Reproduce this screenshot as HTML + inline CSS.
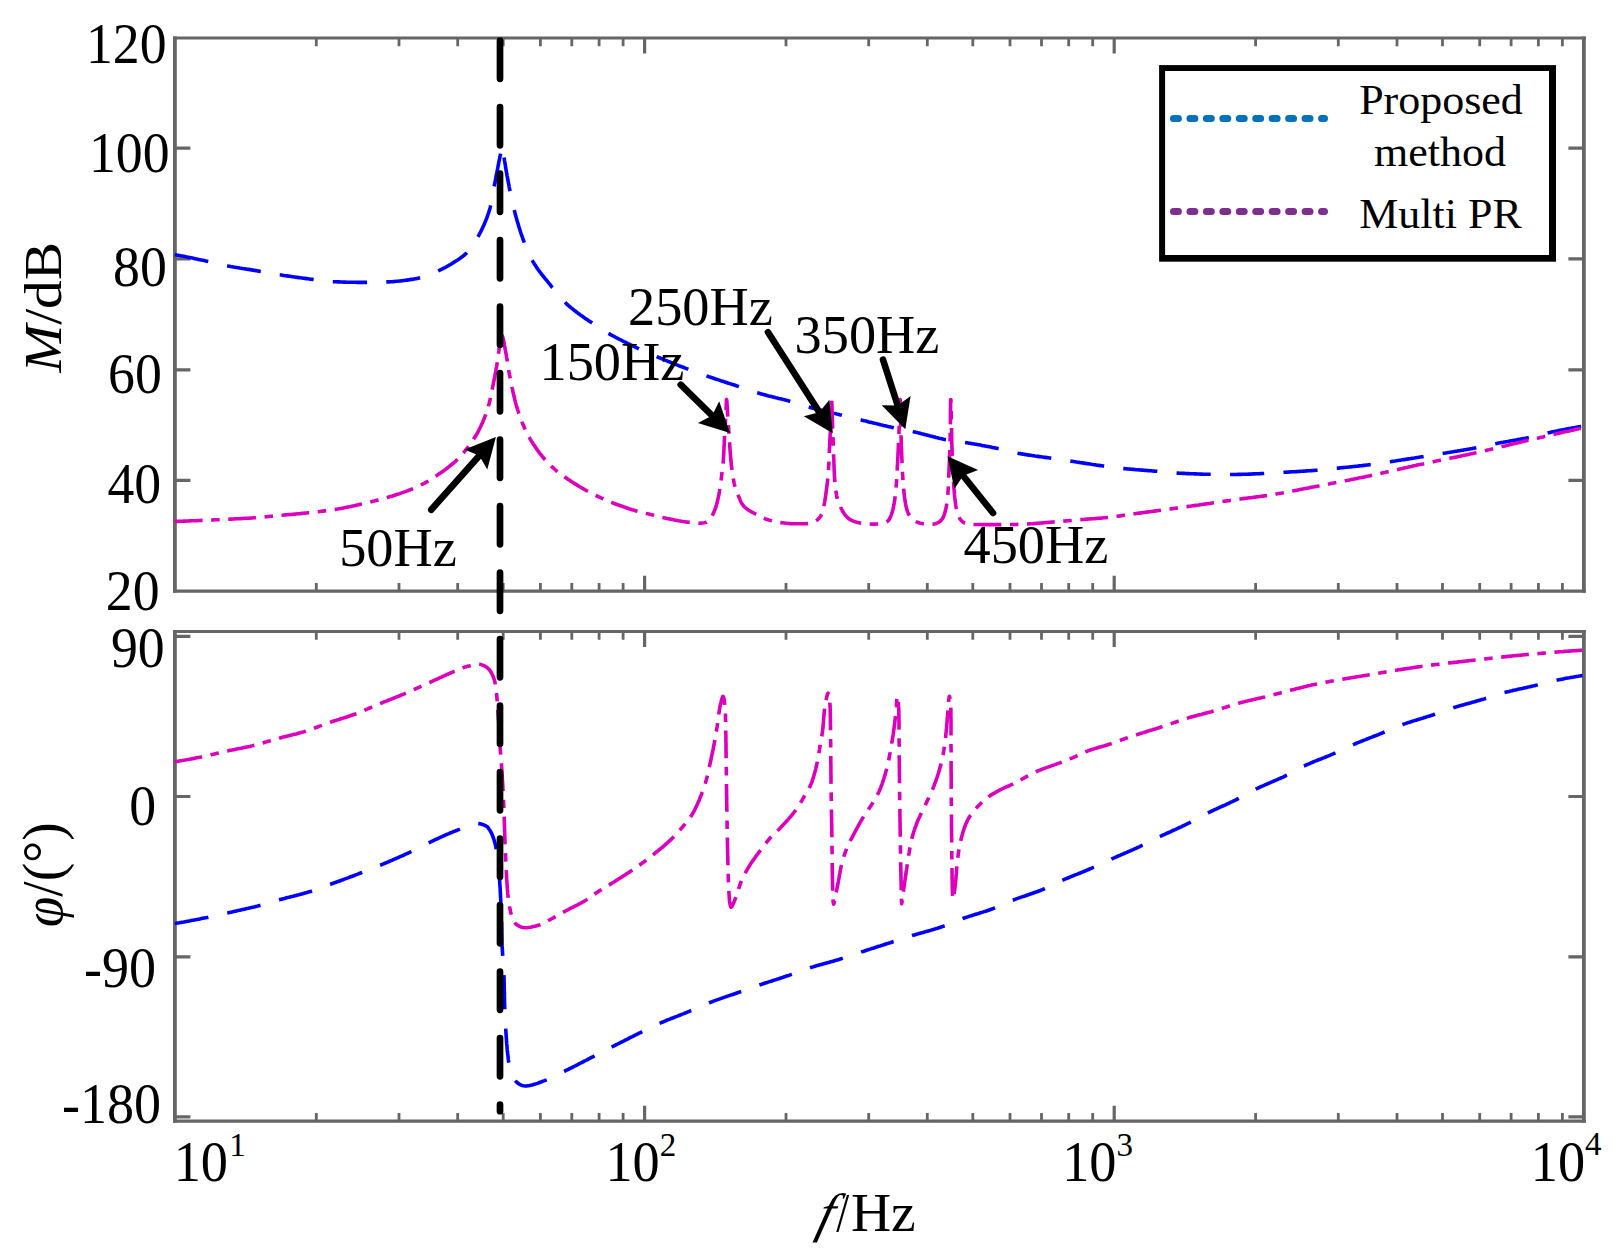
<!DOCTYPE html>
<html lang="en"><head><meta charset="utf-8"><title>Bode plot</title>
<style>html,body{margin:0;padding:0;background:#fff}body{width:1620px;height:1258px;position:relative;overflow:hidden}</style></head>
<body>
<svg width="1620" height="1258" viewBox="0 0 1620 1258" style="position:absolute;left:0;top:0">
<rect width="1620" height="1258" fill="#fff"/>
<g stroke="#666" fill="none">
<path d="M173.0 38.0H1585.8000000000002M173.0 591.2H1585.8000000000002" stroke-width="3.2"/>
<path d="M174.9 36.4V592.8000000000001M1583.9 36.4V592.8000000000001" stroke-width="3.8"/>
<path d="M173.0 631.5H1585.8000000000002M173.0 1121.2H1585.8000000000002" stroke-width="3.2"/>
<path d="M174.9 629.9V1122.8M1583.9 629.9V1122.8" stroke-width="3.8"/>
<path d="M316.3 38.0v8.2M316.3 591.2v-8.2" stroke-width="2.8"/>
<path d="M399.0 38.0v8.2M399.0 591.2v-8.2" stroke-width="2.8"/>
<path d="M457.7 38.0v8.2M457.7 591.2v-8.2" stroke-width="2.8"/>
<path d="M503.2 38.0v8.2M503.2 591.2v-8.2" stroke-width="2.8"/>
<path d="M540.4 38.0v8.2M540.4 591.2v-8.2" stroke-width="2.8"/>
<path d="M571.8 38.0v8.2M571.8 591.2v-8.2" stroke-width="2.8"/>
<path d="M599.1 38.0v8.2M599.1 591.2v-8.2" stroke-width="2.8"/>
<path d="M623.1 38.0v8.2M623.1 591.2v-8.2" stroke-width="2.8"/>
<path d="M644.6 38.0v15.5M644.6 591.2v-15.5" stroke-width="3.2"/>
<path d="M786.0 38.0v8.2M786.0 591.2v-8.2" stroke-width="2.8"/>
<path d="M868.7 38.0v8.2M868.7 591.2v-8.2" stroke-width="2.8"/>
<path d="M927.3 38.0v8.2M927.3 591.2v-8.2" stroke-width="2.8"/>
<path d="M972.8 38.0v8.2M972.8 591.2v-8.2" stroke-width="2.8"/>
<path d="M1010.0 38.0v8.2M1010.0 591.2v-8.2" stroke-width="2.8"/>
<path d="M1041.5 38.0v8.2M1041.5 591.2v-8.2" stroke-width="2.8"/>
<path d="M1068.7 38.0v8.2M1068.7 591.2v-8.2" stroke-width="2.8"/>
<path d="M1092.7 38.0v8.2M1092.7 591.2v-8.2" stroke-width="2.8"/>
<path d="M1114.2 38.0v15.5M1114.2 591.2v-15.5" stroke-width="3.2"/>
<path d="M1255.6 38.0v8.2M1255.6 591.2v-8.2" stroke-width="2.8"/>
<path d="M1338.3 38.0v8.2M1338.3 591.2v-8.2" stroke-width="2.8"/>
<path d="M1397.0 38.0v8.2M1397.0 591.2v-8.2" stroke-width="2.8"/>
<path d="M1442.5 38.0v8.2M1442.5 591.2v-8.2" stroke-width="2.8"/>
<path d="M1479.7 38.0v8.2M1479.7 591.2v-8.2" stroke-width="2.8"/>
<path d="M1511.1 38.0v8.2M1511.1 591.2v-8.2" stroke-width="2.8"/>
<path d="M1538.4 38.0v8.2M1538.4 591.2v-8.2" stroke-width="2.8"/>
<path d="M1562.4 38.0v8.2M1562.4 591.2v-8.2" stroke-width="2.8"/>
<path d="M174.9 148.2h15.5M1583.9 148.2h-15.5" stroke-width="3.2"/>
<path d="M174.9 258.8h15.5M1583.9 258.8h-15.5" stroke-width="3.2"/>
<path d="M174.9 369.8h15.5M1583.9 369.8h-15.5" stroke-width="3.2"/>
<path d="M174.9 480.4h15.5M1583.9 480.4h-15.5" stroke-width="3.2"/>
<path d="M316.3 631.5v8.2M316.3 1121.2v-8.2" stroke-width="2.8"/>
<path d="M399.0 631.5v8.2M399.0 1121.2v-8.2" stroke-width="2.8"/>
<path d="M457.7 631.5v8.2M457.7 1121.2v-8.2" stroke-width="2.8"/>
<path d="M503.2 631.5v8.2M503.2 1121.2v-8.2" stroke-width="2.8"/>
<path d="M540.4 631.5v8.2M540.4 1121.2v-8.2" stroke-width="2.8"/>
<path d="M571.8 631.5v8.2M571.8 1121.2v-8.2" stroke-width="2.8"/>
<path d="M599.1 631.5v8.2M599.1 1121.2v-8.2" stroke-width="2.8"/>
<path d="M623.1 631.5v8.2M623.1 1121.2v-8.2" stroke-width="2.8"/>
<path d="M644.6 631.5v15.5M644.6 1121.2v-15.5" stroke-width="3.2"/>
<path d="M786.0 631.5v8.2M786.0 1121.2v-8.2" stroke-width="2.8"/>
<path d="M868.7 631.5v8.2M868.7 1121.2v-8.2" stroke-width="2.8"/>
<path d="M927.3 631.5v8.2M927.3 1121.2v-8.2" stroke-width="2.8"/>
<path d="M972.8 631.5v8.2M972.8 1121.2v-8.2" stroke-width="2.8"/>
<path d="M1010.0 631.5v8.2M1010.0 1121.2v-8.2" stroke-width="2.8"/>
<path d="M1041.5 631.5v8.2M1041.5 1121.2v-8.2" stroke-width="2.8"/>
<path d="M1068.7 631.5v8.2M1068.7 1121.2v-8.2" stroke-width="2.8"/>
<path d="M1092.7 631.5v8.2M1092.7 1121.2v-8.2" stroke-width="2.8"/>
<path d="M1114.2 631.5v15.5M1114.2 1121.2v-15.5" stroke-width="3.2"/>
<path d="M1255.6 631.5v8.2M1255.6 1121.2v-8.2" stroke-width="2.8"/>
<path d="M1338.3 631.5v8.2M1338.3 1121.2v-8.2" stroke-width="2.8"/>
<path d="M1397.0 631.5v8.2M1397.0 1121.2v-8.2" stroke-width="2.8"/>
<path d="M1442.5 631.5v8.2M1442.5 1121.2v-8.2" stroke-width="2.8"/>
<path d="M1479.7 631.5v8.2M1479.7 1121.2v-8.2" stroke-width="2.8"/>
<path d="M1511.1 631.5v8.2M1511.1 1121.2v-8.2" stroke-width="2.8"/>
<path d="M1538.4 631.5v8.2M1538.4 1121.2v-8.2" stroke-width="2.8"/>
<path d="M1562.4 631.5v8.2M1562.4 1121.2v-8.2" stroke-width="2.8"/>
<path d="M174.9 636.3h15.5M1583.9 636.3h-15.5" stroke-width="3.2"/>
<path d="M174.9 796.5h15.5M1583.9 796.5h-15.5" stroke-width="3.2"/>
<path d="M174.9 956.8h15.5M1583.9 956.8h-15.5" stroke-width="3.2"/>
<path d="M174.9 1116.9h15.5M1583.9 1116.9h-15.5" stroke-width="3.2"/>
</g>
<g fill="none" stroke-linejoin="round">
<path d="M174.8 254.6L176.3 254.9L177.8 255.2L179.2 255.5L180.7 255.8L182.2 256.0L183.7 256.3L185.1 256.6L186.6 256.9L188.1 257.2L189.5 257.5L191.0 257.8L192.5 258.1L194.0 258.4L195.4 258.8L196.9 259.1L198.4 259.4L199.8 259.7L201.3 260.0L202.8 260.3L204.3 260.6L205.7 260.9L206.9 261.2L207.2 261.3L208.7 261.6L210.1 261.9L211.6 262.3L213.1 262.6L214.5 263.0L216.0 263.3L217.4 263.7L218.9 264.0L220.4 264.3L221.8 264.7L223.3 265.0L224.8 265.3L226.2 265.6L226.7 265.7L227.7 265.9L229.2 266.2L230.7 266.5L232.2 266.7L233.6 267.0L235.1 267.2L236.6 267.5L238.1 267.7L239.6 268.0L241.0 268.2L242.5 268.5L244.0 268.7L245.5 268.9L247.0 269.2L248.5 269.4L250.0 269.6L251.4 269.9L252.9 270.1L254.4 270.4L255.9 270.6L257.4 270.9L258.8 271.1L258.9 271.1L260.3 271.4L261.8 271.6L263.3 271.9L264.8 272.2L266.3 272.4L267.7 272.7L269.2 273.0L270.7 273.2L272.2 273.5L273.7 273.8L275.1 274.0L276.6 274.3L278.1 274.5L279.6 274.8L279.8 274.8L281.1 275.0L282.6 275.2L284.0 275.5L285.5 275.7L287.0 275.9L288.5 276.1L290.0 276.3L291.5 276.6L293.0 276.8L294.5 277.0L295.9 277.2L297.4 277.4L298.9 277.6L300.4 277.8L301.9 278.0L303.4 278.2L304.9 278.4L306.4 278.6L307.9 278.8L309.4 279.0L310.8 279.2L311.9 279.3L312.3 279.4L313.8 279.6L315.3 279.8L316.8 280.0L318.3 280.2L319.8 280.4L321.3 280.6L322.8 280.8L324.3 281.0L325.8 281.1L327.3 281.3L328.8 281.4L330.3 281.6L331.8 281.7L332.8 281.7L333.2 281.7L334.7 281.8L336.2 281.8L337.7 281.9L339.2 281.9L340.8 282.0L342.3 282.0L343.8 282.1L345.3 282.1L346.8 282.2L348.3 282.2L349.8 282.2L351.3 282.3L352.8 282.3L354.3 282.3L355.8 282.3L357.3 282.4L358.8 282.4L360.3 282.4L361.8 282.4L363.3 282.4L364.8 282.4L364.9 282.4L366.3 282.4L367.8 282.4L369.3 282.4L370.8 282.4L372.3 282.3L373.8 282.3L375.3 282.3L376.8 282.3L378.4 282.2L379.9 282.2L381.4 282.1L382.9 282.1L384.4 282.0L385.9 282.0L385.9 282.0L387.4 281.9L388.9 281.9L390.4 281.8L391.9 281.7L393.4 281.6L394.9 281.5L396.4 281.3L397.9 281.2L399.4 281.0L400.9 280.9L402.4 280.7L403.9 280.5L405.4 280.3L406.9 280.1L408.4 279.9L409.9 279.6L411.4 279.4L412.9 279.2L414.3 278.9L415.8 278.7L417.3 278.4L418.7 278.1L419.3 278.0L420.2 277.8L421.6 277.5L423.0 277.1L424.5 276.6L425.9 276.2L427.3 275.6L428.7 275.1L430.1 274.5L431.5 273.9L432.9 273.3L434.3 272.7L435.7 272.0L437.1 271.4L437.8 271.1L438.4 270.8L439.8 270.2L441.1 269.5L442.5 268.9L443.8 268.2L445.2 267.5L446.5 266.7L447.8 266.0L449.1 265.2L450.4 264.5L451.7 263.7L452.0 263.5L453.0 262.9L454.2 262.1L455.5 261.3L456.8 260.5L458.1 259.7L459.4 258.8L460.6 257.9L461.8 257.0L463.0 256.1L464.2 255.2L465.3 254.2L466.2 253.3L466.3 253.2L467.3 252.1L468.3 251.0L469.3 249.9L470.3 248.7L471.2 247.5L472.1 246.3L473.0 245.1L473.9 243.8L474.7 242.5L475.5 241.2L476.3 239.9L477.0 238.6L477.6 237.6L477.7 237.3L478.5 236.0L479.1 234.7L479.8 233.4L480.5 232.1L481.2 230.7L481.9 229.4L482.5 228.0L483.1 226.6L483.8 225.2L484.4 223.8L485.0 222.4L485.6 221.0L486.1 219.6L486.7 218.2L487.2 216.8L487.7 215.3L488.2 213.9L488.7 212.5L489.1 211.0L489.6 209.6L490.0 208.2L490.3 206.7L490.4 206.5L490.7 205.3L491.0 203.8L491.3 202.4L491.6 200.9L491.9 199.4L492.2 197.9L492.4 196.5L492.7 195.0L492.9 193.5L493.2 192.0L493.4 190.5L493.7 189.0L494.0 187.5L494.0 187.3L494.2 186.1L494.5 184.6L494.8 183.1L495.1 181.6L495.4 180.2L495.7 178.7L495.9 177.2L496.2 175.7L496.5 174.2L496.8 172.8L497.1 171.3L497.4 169.8L497.7 168.3L498.0 166.9L498.3 165.4L498.5 163.9L498.8 162.4L499.1 161.0L499.4 159.5L499.7 158.0L500.0 156.5L500.3 155.1L500.6 153.6" stroke="#0000ff" stroke-width="3.6" stroke-dasharray="34.2 19.3"/>
<path d="M504.1 157.5L504.3 159.0L504.5 160.5L504.8 162.0L505.0 163.4L505.3 164.9L505.5 166.4L505.7 167.9L506.0 169.4L506.2 170.9L506.5 172.3L506.8 173.8L507.0 175.3L507.3 176.8L507.6 178.2L507.8 179.7L508.1 181.2L508.4 182.7L508.7 184.1L509.0 185.6L509.2 187.1L509.5 188.6L509.8 190.0L510.0 190.9L510.1 191.5L510.4 193.0L510.7 194.5L511.0 195.9L511.3 197.4L511.6 198.9L512.0 200.3L512.3 201.8L512.6 203.3L513.0 204.7L513.3 206.2L513.7 207.7L514.0 209.1L514.4 210.6L514.5 211.0L514.8 212.0L515.1 213.5L515.5 214.9L515.9 216.4L516.3 217.8L516.7 219.3L517.1 220.7L517.5 222.2L518.0 223.6L518.4 225.0L518.8 226.5L519.3 227.9L519.7 229.4L520.2 230.8L520.6 232.2L521.1 233.7L521.6 235.1L522.1 236.5L522.6 237.9L523.1 239.3L523.6 240.7L524.1 242.1L524.2 242.4L524.6 243.5L525.2 244.9L525.7 246.3L526.3 247.7L526.9 249.1L527.5 250.5L528.1 251.9L528.7 253.3L529.3 254.7L530.0 256.0L530.7 257.4L531.3 258.7L532.0 260.0L532.6 261.0L532.8 261.3L533.5 262.6L534.3 263.8L535.1 265.1L535.9 266.3L536.7 267.6L537.6 268.8L538.4 270.0L539.3 271.2L540.2 272.4L541.2 273.6L542.1 274.8L543.0 276.0L544.0 277.2L544.9 278.4L545.9 279.5L546.9 280.7L547.8 281.9L548.8 283.1L549.7 284.2L550.7 285.4L551.6 286.6L552.4 287.5L552.6 287.7L553.5 288.9L554.5 290.1L555.4 291.3L556.3 292.4L557.3 293.6L558.2 294.8L559.2 296.0L560.2 297.1L561.2 298.2L562.2 299.4L563.2 300.5L564.2 301.5L565.3 302.6L565.7 303.0L566.3 303.6L567.4 304.6L568.5 305.6L569.7 306.6L570.8 307.5L571.9 308.5L573.1 309.4L574.3 310.4L575.5 311.3L576.7 312.2L577.9 313.1L579.1 314.0L580.3 314.9L581.6 315.8L582.8 316.6L584.0 317.5L585.3 318.4L586.5 319.2L587.8 320.1L589.0 320.9L590.3 321.8L591.5 322.6L592.8 323.5L592.8 323.5L594.0 324.3L595.2 325.1L596.5 326.0L597.8 326.8L599.0 327.6L600.3 328.4L601.6 329.2L602.8 330.0L604.1 330.8L605.4 331.6L606.7 332.3L608.0 333.1L609.3 333.8L610.1 334.3L610.6 334.6L611.9 335.3L613.2 336.0L614.5 336.7L615.9 337.5L617.2 338.2L618.5 338.8L619.9 339.5L621.2 340.2L622.5 340.9L623.9 341.6L625.2 342.2L626.6 342.9L627.9 343.6L629.3 344.2L630.6 344.9L632.0 345.5L633.3 346.2L634.7 346.8L636.1 347.5L637.4 348.1L638.5 348.6L638.8 348.7L640.1 349.4L641.5 350.0L642.9 350.6L644.2 351.2L645.6 351.8L647.0 352.4L648.4 353.1L649.7 353.7L651.1 354.2L652.5 354.8L653.9 355.4L655.3 356.0L656.6 356.6L658.0 357.2L658.3 357.3L659.4 357.8L660.8 358.3L662.2 358.9L663.6 359.5L665.0 360.1L666.4 360.6L667.7 361.2L669.1 361.8L670.5 362.3L671.9 362.9L673.3 363.5L674.7 364.0L676.1 364.6L677.5 365.1L678.9 365.7L680.3 366.2L681.7 366.8L683.1 367.3L684.5 367.8L685.9 368.4L687.3 368.9L688.7 369.5L689.1 369.6L690.1 370.0L691.5 370.5L692.9 371.0L694.3 371.5L695.7 372.1L697.2 372.6L698.6 373.1L700.0 373.6L701.4 374.1L702.8 374.6L704.2 375.1L705.6 375.6L707.1 376.1L707.7 376.3L708.5 376.6L709.9 377.1L711.3 377.5L712.8 378.0L714.2 378.5L715.6 379.0L717.0 379.4L718.5 379.9L719.9 380.4L721.3 380.9L722.7 381.3L724.2 381.8L725.6 382.2L727.0 382.7L728.4 383.2L729.9 383.6L731.3 384.1L732.7 384.6L734.2 385.0L735.6 385.5L737.0 386.0L738.4 386.4L739.8 386.9L739.9 386.9L741.3 387.4L742.7 387.9L744.1 388.4L745.5 388.9L747.0 389.4L748.4 389.9L749.8 390.3L751.2 390.8L752.7 391.3L754.1 391.8L755.5 392.2L756.9 392.7L758.3 393.1L758.4 393.1L759.8 393.5L761.3 393.9L762.7 394.3L764.1 394.7L765.6 395.1L767.1 395.5L768.5 395.9L770.0 396.2L771.4 396.6L772.9 396.9L774.3 397.3L775.8 397.7L777.3 398.0L778.7 398.4L780.2 398.7L781.6 399.1L783.1 399.4L784.6 399.8L786.0 400.2L787.5 400.6L788.9 401.0L790.4 401.4L791.6 401.7L791.8 401.8L793.3 402.2L794.7 402.6L796.1 403.1L797.6 403.5L799.0 404.0L800.4 404.4L801.9 404.9L803.3 405.3L804.7 405.8L806.1 406.2L807.6 406.7L809.0 407.1L810.1 407.4L810.5 407.5L811.9 407.9L813.4 408.3L814.8 408.7L816.3 409.0L817.7 409.4L819.2 409.8L820.6 410.1L822.1 410.5L823.6 410.8L825.0 411.2L826.5 411.5L827.9 411.9L829.4 412.2L830.9 412.6L832.3 412.9L833.8 413.3L835.3 413.6L836.7 414.0L838.2 414.3L839.6 414.7L841.1 415.0L842.2 415.3L842.6 415.4L844.0 415.7L845.5 416.1L846.9 416.5L848.4 416.8L849.8 417.2L851.3 417.6L852.8 417.9L854.2 418.3L855.7 418.6L857.1 419.0L858.6 419.4L860.0 419.7L861.5 420.1L862.0 420.2L863.0 420.4L864.4 420.8L865.9 421.1L867.3 421.5L868.8 421.9L870.3 422.2L871.7 422.6L873.2 422.9L874.6 423.3L876.1 423.6L877.6 424.0L879.0 424.3L880.5 424.7L881.9 425.0L883.4 425.4L884.9 425.7L886.3 426.1L887.8 426.4L889.2 426.7L890.7 427.1L892.2 427.4L893.6 427.7L895.1 428.1L895.3 428.1L896.6 428.4L898.0 428.7L899.5 429.0L901.0 429.3L902.5 429.6L903.9 429.9L905.4 430.1L906.9 430.4L908.4 430.7L909.8 431.0L911.3 431.3L912.8 431.6L914.2 431.9L915.0 432.1L915.7 432.3L917.2 432.6L918.6 432.9L920.1 433.3L921.5 433.7L923.0 434.0L924.5 434.4L925.9 434.8L927.4 435.2L928.8 435.6L930.3 436.0L931.7 436.3L933.2 436.7L934.6 437.1L936.1 437.5L937.6 437.8L939.0 438.2L940.5 438.5L941.9 438.8L943.4 439.2L944.9 439.5L946.3 439.7L946.7 439.8L947.8 440.0L949.3 440.2L950.8 440.5L952.3 440.7L953.7 440.9L955.2 441.1L956.7 441.3L958.2 441.5L959.7 441.7L961.2 441.9L962.7 442.1L964.2 442.4L965.7 442.6L966.4 442.7L967.1 442.8L968.6 443.1L970.1 443.3L971.6 443.6L973.1 443.8L974.5 444.1L976.0 444.3L977.5 444.6L979.0 444.8L980.5 445.1L981.9 445.4L983.4 445.7L984.9 445.9L986.4 446.2L987.8 446.5L989.3 446.8L990.8 447.1L992.3 447.4L993.7 447.7L995.2 447.9L996.7 448.2L998.1 448.6L999.6 448.9L999.8 448.9L1001.1 449.2L1002.5 449.5L1004.0 449.9L1005.5 450.2L1006.9 450.6L1008.4 451.0L1009.8 451.4L1011.3 451.7L1012.8 452.1L1014.2 452.4L1015.7 452.8L1017.1 453.1L1018.3 453.3L1018.6 453.4L1020.1 453.6L1021.6 453.9L1023.0 454.1L1024.5 454.4L1026.0 454.6L1027.5 454.9L1029.0 455.1L1030.5 455.3L1031.9 455.5L1033.4 455.7L1034.9 456.0L1036.4 456.2L1037.9 456.4L1039.4 456.6L1040.9 456.8L1042.4 457.0L1043.8 457.2L1045.3 457.4L1046.8 457.6L1048.3 457.8L1049.8 458.0L1051.3 458.3L1051.6 458.3L1052.8 458.5L1054.3 458.7L1055.7 458.9L1057.2 459.1L1058.7 459.3L1060.2 459.6L1061.7 459.8L1063.2 460.0L1064.7 460.2L1066.1 460.4L1067.6 460.6L1069.1 460.9L1070.6 461.1L1071.4 461.2L1072.1 461.3L1073.6 461.5L1075.1 461.7L1076.5 462.0L1078.0 462.2L1079.5 462.4L1081.0 462.7L1082.5 462.9L1084.0 463.1L1085.4 463.4L1086.9 463.6L1088.4 463.8L1089.9 464.0L1091.4 464.3L1092.9 464.5L1094.4 464.7L1095.8 464.9L1097.3 465.2L1098.8 465.4L1100.3 465.6L1101.8 465.8L1103.3 466.0L1104.7 466.2L1104.8 466.2L1106.2 466.4L1107.7 466.6L1109.2 466.8L1110.7 467.0L1112.2 467.2L1113.7 467.4L1115.2 467.6L1116.7 467.7L1118.2 467.9L1119.7 468.1L1121.1 468.3L1122.6 468.4L1124.1 468.6L1124.4 468.6L1125.6 468.7L1127.1 468.9L1128.6 469.0L1130.1 469.1L1131.6 469.3L1133.1 469.4L1134.6 469.5L1136.1 469.7L1137.6 469.8L1139.1 469.9L1140.6 470.0L1142.1 470.1L1143.6 470.3L1145.1 470.4L1146.6 470.5L1148.1 470.6L1149.6 470.7L1151.1 470.8L1152.6 471.0L1154.1 471.1L1155.6 471.2L1157.1 471.3L1157.8 471.4L1158.6 471.5L1160.0 471.6L1161.5 471.7L1163.0 471.9L1164.5 472.0L1166.0 472.2L1167.5 472.3L1169.0 472.5L1170.5 472.6L1172.0 472.7L1173.5 472.8L1175.0 472.9L1176.5 473.0L1177.5 473.1L1178.0 473.1L1179.5 473.2L1181.0 473.3L1182.5 473.4L1184.0 473.4L1185.5 473.5L1187.0 473.6L1188.5 473.6L1190.0 473.7L1191.5 473.8L1193.0 473.8L1194.5 473.9L1196.0 473.9L1197.5 474.0L1199.0 474.0L1200.5 474.1L1202.0 474.1L1203.5 474.2L1205.0 474.2L1206.5 474.2L1208.0 474.3L1209.5 474.3L1210.9 474.3L1211.0 474.3L1212.5 474.3L1214.0 474.3L1215.5 474.4L1217.0 474.4L1218.5 474.4L1220.0 474.4L1221.5 474.4L1223.0 474.5L1224.5 474.5L1226.0 474.5L1227.5 474.5L1229.0 474.5L1230.5 474.5L1231.5 474.5L1232.0 474.5L1233.5 474.5L1235.0 474.5L1236.5 474.5L1238.0 474.4L1239.5 474.4L1241.0 474.4L1242.5 474.3L1244.1 474.3L1245.6 474.2L1247.1 474.2L1248.6 474.1L1250.1 474.1L1251.6 474.0L1253.1 473.9L1254.6 473.9L1256.1 473.8L1257.6 473.7L1259.1 473.7L1260.6 473.6L1262.1 473.5L1263.6 473.5L1264.8 473.4L1265.1 473.4L1266.6 473.3L1268.1 473.2L1269.6 473.2L1271.1 473.1L1272.6 473.0L1274.1 472.9L1275.6 472.8L1277.1 472.7L1278.6 472.6L1280.1 472.6L1281.6 472.5L1283.1 472.4L1284.2 472.3L1284.5 472.3L1286.0 472.2L1287.5 472.1L1289.0 472.0L1290.5 471.9L1292.0 471.8L1293.5 471.8L1295.0 471.7L1296.5 471.6L1298.0 471.5L1299.5 471.4L1301.0 471.3L1302.5 471.2L1304.0 471.1L1305.5 471.0L1307.0 470.9L1308.5 470.8L1310.0 470.7L1311.5 470.6L1313.0 470.5L1314.5 470.4L1316.0 470.3L1317.5 470.2L1318.8 470.1L1319.0 470.1L1320.5 470.0L1322.0 469.8L1323.5 469.7L1325.0 469.5L1326.5 469.4L1328.0 469.2L1329.5 469.1L1331.0 468.9L1332.5 468.8L1334.0 468.6L1335.5 468.4L1336.9 468.3L1338.4 468.1L1338.5 468.1L1339.9 467.9L1341.4 467.8L1342.9 467.6L1344.4 467.5L1345.9 467.3L1347.4 467.2L1348.9 467.0L1350.4 466.9L1351.9 466.7L1353.4 466.5L1354.9 466.4L1356.4 466.2L1357.9 466.1L1359.3 465.9L1360.8 465.7L1362.3 465.6L1363.8 465.4L1365.3 465.2L1366.8 465.0L1368.3 464.9L1369.8 464.7L1371.3 464.5L1371.9 464.4L1372.8 464.3L1374.3 464.1L1375.7 463.9L1377.2 463.7L1378.7 463.5L1380.2 463.2L1381.7 463.0L1383.2 462.8L1384.7 462.6L1386.1 462.3L1387.6 462.1L1389.1 461.9L1390.6 461.7L1391.6 461.5L1392.1 461.4L1393.6 461.2L1395.0 461.0L1396.5 460.7L1398.0 460.5L1399.5 460.3L1401.0 460.1L1402.5 459.8L1404.0 459.6L1405.4 459.4L1406.9 459.1L1408.4 458.9L1409.9 458.7L1411.4 458.4L1412.9 458.2L1414.3 458.0L1415.8 457.7L1417.3 457.5L1418.8 457.3L1420.3 457.0L1421.8 456.8L1423.2 456.6L1424.7 456.3L1424.9 456.3L1426.2 456.1L1427.7 455.9L1429.2 455.6L1430.6 455.4L1432.1 455.1L1433.6 454.9L1435.1 454.7L1436.6 454.4L1438.1 454.2L1439.5 453.9L1441.0 453.7L1442.5 453.5L1443.5 453.3L1444.0 453.2L1445.5 453.0L1447.0 452.7L1448.4 452.5L1449.9 452.3L1451.4 452.0L1452.9 451.8L1454.4 451.5L1455.9 451.3L1457.3 451.1L1458.8 450.8L1460.3 450.6L1461.8 450.3L1463.3 450.1L1464.7 449.8L1466.2 449.6L1467.7 449.3L1469.2 449.1L1470.7 448.8L1472.1 448.6L1473.6 448.3L1475.1 448.0L1476.6 447.7L1476.8 447.7L1478.0 447.5L1479.5 447.2L1481.0 446.9L1482.5 446.5L1483.9 446.2L1485.4 445.9L1486.9 445.6L1488.3 445.3L1489.8 444.9L1491.3 444.6L1492.7 444.3L1494.2 444.0L1495.7 443.7L1496.5 443.5L1497.1 443.4L1498.6 443.1L1500.1 442.8L1501.6 442.5L1503.0 442.3L1504.5 442.0L1506.0 441.7L1507.5 441.5L1509.0 441.2L1510.4 440.9L1511.9 440.7L1513.4 440.4L1514.9 440.2L1516.4 439.9L1517.8 439.6L1519.3 439.4L1520.8 439.1L1522.3 438.8L1523.7 438.5L1525.2 438.3L1526.7 438.0L1528.2 437.7L1529.6 437.4L1529.9 437.3L1531.1 437.0L1532.5 436.7L1534.0 436.4L1535.5 436.0L1536.9 435.6L1538.4 435.3L1539.8 434.9L1541.3 434.5L1542.7 434.1L1544.2 433.8L1545.7 433.4L1547.1 433.1L1548.4 432.8L1548.6 432.8L1550.1 432.4L1551.5 432.1L1553.0 431.8L1554.5 431.5L1555.9 431.2L1557.4 430.9L1558.9 430.6L1560.3 430.3L1561.8 430.0L1563.3 429.7L1564.8 429.4L1566.2 429.1L1567.7 428.8L1569.2 428.5L1570.7 428.3L1572.1 428.0L1573.6 427.7L1575.1 427.5L1576.6 427.2L1578.1 426.9L1579.5 426.7L1581.0 426.4L1582.5 426.2" stroke="#0000ff" stroke-width="3.6" stroke-dasharray="34.2 19.3"/>
<path d="M174.8 521.5L176.3 521.4L177.8 521.4L179.3 521.3L180.8 521.3L182.3 521.2L183.8 521.1L185.3 521.1L186.8 521.0L188.3 521.0L189.8 520.9L191.3 520.8L192.8 520.8L194.3 520.7L195.8 520.7L197.3 520.6L198.8 520.5L199.5 520.5L200.3 520.5L201.8 520.4L203.3 520.3L204.8 520.3L206.3 520.2L207.8 520.2L209.3 520.1L210.8 520.0L212.3 520.0L213.8 519.9L215.3 519.8L216.8 519.8L218.3 519.7L219.8 519.6L221.3 519.6L222.8 519.5L224.3 519.4L225.8 519.3L226.7 519.3L227.3 519.3L228.8 519.2L230.3 519.1L231.7 519.1L233.2 519.0L234.7 518.9L236.2 518.8L237.7 518.7L239.2 518.7L240.7 518.6L242.2 518.5L243.7 518.4L245.2 518.3L246.7 518.3L248.2 518.2L249.7 518.1L251.2 518.0L252.7 517.9L253.8 517.8L254.2 517.8L255.7 517.7L257.2 517.5L258.7 517.4L260.2 517.3L261.7 517.2L263.2 517.0L264.7 516.9L266.2 516.7L267.7 516.6L269.2 516.5L270.6 516.3L272.1 516.2L273.6 516.0L275.1 515.9L276.6 515.7L278.1 515.6L279.6 515.4L281.0 515.3L281.1 515.3L282.6 515.2L284.1 515.0L285.6 514.9L287.1 514.8L288.6 514.6L290.1 514.5L291.6 514.4L293.1 514.2L294.6 514.1L296.0 514.0L297.5 513.8L299.0 513.7L300.5 513.6L302.0 513.4L303.5 513.3L305.0 513.1L306.5 513.0L308.0 512.8L308.1 512.8L309.5 512.7L311.0 512.5L312.5 512.3L314.0 512.2L315.4 512.0L316.9 511.8L318.4 511.7L319.9 511.5L321.4 511.3L322.9 511.1L324.4 510.9L325.9 510.7L327.4 510.5L328.9 510.3L330.3 510.1L331.8 509.9L333.3 509.7L334.8 509.5L335.3 509.4L336.3 509.2L337.7 509.0L339.2 508.7L340.7 508.5L342.2 508.2L343.6 507.9L345.1 507.6L346.6 507.3L348.1 507.0L349.5 506.7L351.0 506.4L352.5 506.1L353.9 505.8L355.4 505.4L356.9 505.1L358.3 504.8L359.8 504.4L360.0 504.4L361.2 504.1L362.7 503.8L364.2 503.4L365.6 503.1L367.1 502.8L368.6 502.4L370.0 502.1L371.5 501.7L372.9 501.3L374.4 501.0L375.8 500.6L377.3 500.2L378.7 499.8L380.2 499.5L381.6 499.1L383.1 498.7L384.5 498.3L386.0 497.9L387.2 497.5L387.4 497.4L388.8 497.0L390.3 496.6L391.7 496.2L393.2 495.7L394.6 495.3L396.0 494.8L397.4 494.3L398.9 493.9L400.3 493.4L401.7 492.9L403.1 492.4L404.6 491.9L406.0 491.4L407.4 490.9L408.8 490.3L410.2 489.8L410.6 489.6L411.5 489.2L412.9 488.7L414.3 488.1L415.7 487.5L417.1 486.8L418.4 486.2L419.8 485.6L421.1 484.9L422.5 484.2L423.8 483.5L425.1 482.8L425.4 482.7L426.4 482.1L427.7 481.4L429.0 480.6L430.3 479.8L431.6 479.0L432.8 478.2L434.1 477.3L435.3 476.5L435.3 476.5L436.5 475.7L437.8 474.8L439.0 473.9L440.3 473.1L441.5 472.2L442.7 471.4L444.0 470.5L445.2 469.6L446.4 468.7L447.6 467.8L448.8 466.9L450.0 465.9L451.1 465.0L452.3 464.0L453.4 463.1L454.6 462.1L455.7 461.1L456.3 460.5L456.7 460.1L457.8 459.0L458.9 458.0L459.9 456.9L460.9 455.8L461.9 454.6L462.9 453.5L463.9 452.3L464.8 451.2L465.7 450.0L466.2 449.4L466.6 448.8L467.6 447.6L468.5 446.4L469.4 445.2L470.3 444.0L471.1 442.8L472.0 441.5L472.9 440.3L473.7 439.0L474.5 437.8L475.3 436.5L476.1 435.2L476.9 433.9L477.6 432.6L478.3 431.3L478.5 430.9L479.0 430.0L479.6 428.7L480.3 427.3L480.9 426.0L481.5 424.6L482.2 423.2L482.8 421.9L483.4 420.5L483.9 419.1L484.5 417.7L485.0 416.3L485.6 414.8L486.1 413.4L486.6 412.0L487.1 410.6L487.5 409.1L488.0 407.7L488.4 406.3L488.4 406.2L488.8 404.8L489.2 403.4L489.5 402.0L489.9 400.5L490.2 399.0L490.5 397.6L490.9 396.1L491.2 394.6L491.5 393.2L491.8 391.7L492.1 390.2L492.4 388.7L492.6 387.3L492.9 385.8L493.2 384.3L493.3 384.0L493.5 382.8L493.8 381.4L494.1 379.9L494.4 378.4L494.7 377.0L494.9 375.5L495.2 374.0L495.5 372.5L495.8 371.1L496.0 369.6L496.3 368.1L496.6 366.6L496.8 365.1L497.0 364.2L497.1 363.7L497.4 362.1L497.6 360.3L497.9 358.5L498.1 356.6L498.4 354.7L498.6 352.7L498.9 350.8L499.1 348.8L499.4 346.9L499.6 345.1L499.9 343.4L500.1 341.8L500.4 340.3L500.6 339.0L500.9 337.9L501.2 337.0L501.5 336.3L501.7 335.9L502.0 335.8L502.0 335.8L502.4 336.1L502.7 336.9L503.0 338.0L503.4 339.5L503.7 341.2L504.1 343.0L504.4 344.9L504.8 346.9L505.1 348.8L505.4 350.5L505.7 351.9L505.7 352.1L506.0 353.6L506.3 355.0L506.5 356.5L506.8 358.0L507.0 359.5L507.3 360.9L507.5 362.4L507.7 363.9L507.9 365.4L508.2 366.9L508.4 368.4L508.7 369.8L508.9 371.3L509.2 372.8L509.4 374.1L509.4 374.3L509.7 375.7L510.0 377.2L510.3 378.7L510.6 380.2L510.8 381.6L511.1 383.1L511.4 384.6L511.7 386.1L512.0 387.5L512.4 389.0L512.7 390.5L513.0 391.9L513.3 393.4L513.7 394.9L514.0 396.3L514.4 397.8L514.7 399.2L514.9 400.0L515.1 400.7L515.4 402.1L515.8 403.6L516.2 405.0L516.7 406.5L517.1 407.9L517.5 409.3L518.0 410.8L518.4 412.1L518.4 412.2L518.9 413.6L519.4 415.0L519.9 416.5L520.4 417.9L520.9 419.3L521.5 420.7L522.0 422.1L522.6 423.5L523.2 424.9L523.6 425.9L523.7 426.2L524.3 427.6L525.0 429.0L525.6 430.3L526.3 431.7L526.9 433.0L527.6 434.4L528.3 435.7L529.0 437.0L529.6 438.0L529.8 438.3L530.5 439.6L531.3 440.9L532.1 442.1L532.9 443.4L533.7 444.7L534.6 445.9L535.4 447.2L536.3 448.4L537.1 449.7L538.0 450.9L538.9 452.1L539.8 453.3L540.8 454.5L541.7 455.6L542.6 456.8L543.6 458.0L544.3 458.8L544.5 459.1L545.5 460.2L546.5 461.3L547.6 462.4L548.6 463.5L549.7 464.6L550.7 465.6L551.8 466.7L552.9 467.7L554.0 468.7L555.2 469.7L555.5 470.0L556.3 470.7L557.5 471.6L558.6 472.5L559.8 473.5L561.0 474.4L562.2 475.2L563.5 476.1L564.7 477.0L565.9 477.8L565.9 477.8L567.2 478.7L568.4 479.5L569.7 480.3L570.9 481.2L572.2 482.0L573.4 482.8L574.7 483.6L576.0 484.4L577.3 485.2L578.5 486.0L579.8 486.8L581.1 487.5L582.4 488.3L583.7 489.0L585.0 489.8L585.8 490.2L586.3 490.5L587.6 491.2L589.0 491.9L590.3 492.6L591.6 493.3L593.0 494.0L594.3 494.6L595.7 495.3L597.0 496.0L598.4 496.6L598.8 496.8L599.7 497.2L601.1 497.9L602.5 498.5L603.8 499.1L605.2 499.7L606.6 500.3L607.9 500.9L609.3 501.5L610.7 502.1L612.1 502.6L612.6 502.8L613.5 503.2L614.9 503.7L616.3 504.2L617.7 504.8L619.1 505.3L620.5 505.8L621.9 506.3L623.4 506.8L624.8 507.3L626.2 507.8L627.6 508.3L629.0 508.8L630.5 509.2L631.9 509.7L633.3 510.1L634.8 510.5L635.0 510.6L636.2 510.9L637.7 511.3L639.1 511.7L640.6 512.1L642.0 512.4L643.5 512.8L644.9 513.1L646.4 513.5L647.9 513.8L648.9 514.1L649.3 514.2L650.8 514.6L652.2 514.9L653.7 515.3L655.1 515.7L656.6 516.1L658.0 516.4L659.5 516.8L661.0 517.1L662.4 517.5L663.9 517.8L664.4 517.9L665.3 518.1L666.8 518.4L668.3 518.7L669.7 519.0L671.2 519.3L672.7 519.6L674.2 519.9L675.6 520.2L677.1 520.5L678.6 520.8L680.1 521.0L681.5 521.3L683.0 521.5L684.5 521.7L686.0 522.0L687.5 522.1L687.9 522.2L689.0 522.3L690.5 522.5L691.9 522.7L693.4 522.9L694.9 523.0L696.4 523.1L697.9 523.2L698.3 523.2L699.4 523.2L701.0 523.1L702.6 523.0L704.1 522.8L705.4 522.5L705.6 522.5L706.7 522.1L707.8 521.3L709.0 520.1L710.0 518.8L710.9 517.5L711.7 516.3L711.8 516.2L712.5 515.0L713.2 513.7L713.8 512.3L714.4 510.9L715.0 509.5L715.5 508.0L716.0 506.6L716.2 505.8L716.4 505.2L716.8 503.7L717.2 502.3L717.6 500.8L717.9 499.4L718.2 497.9L718.5 496.4L718.8 494.9L719.1 493.5L719.4 492.0L719.5 491.3L719.6 490.5L719.9 489.0L720.1 487.5L720.3 486.1L720.5 484.6L720.7 483.1L720.9 481.6L721.1 480.1L721.3 478.6L721.5 477.1L721.5 476.8L721.6 475.6L721.8 474.2L722.0 472.7L722.2 471.2L722.4 469.7L722.6 468.2L722.8 466.7L722.9 465.2L723.1 463.7L723.2 462.4L723.2 462.2L723.3 460.7L723.4 459.2L723.5 457.7L723.6 456.2L723.7 454.8L723.8 453.3L723.8 451.8L723.9 450.3L724.0 448.8L724.0 447.3L724.1 445.8L724.2 444.3L724.3 442.8L724.3 441.3L724.4 439.8L724.5 438.3L724.5 437.9L724.6 436.8L724.6 435.3L724.7 433.8L724.8 432.3L724.9 430.8L725.0 429.3L725.1 427.8L725.2 426.3L725.3 424.8L725.4 423.3L725.5 421.8L725.5 420.3L725.6 418.8L725.7 417.3L725.8 415.8L725.8 415.6L725.9 414.2L725.9 412.4L726.0 410.5L726.1 408.5L726.2 406.5L726.2 404.6L726.3 402.9L726.4 401.5L726.4 400.4L726.5 399.7L726.6 399.5L726.6 399.5L726.7 399.8L726.8 400.6L726.9 401.8L727.0 403.3L727.1 405.1L727.3 406.9L727.4 408.9L727.5 410.9L727.6 412.8L727.7 414.6L727.8 415.6L727.8 416.1L727.9 417.6L728.0 419.1L728.1 420.6L728.2 422.1L728.3 423.6L728.4 425.1L728.5 426.6L728.6 428.1L728.7 429.6L728.8 431.1L728.9 432.6L728.9 434.1L729.0 435.6L729.1 437.1L729.2 438.6L729.3 440.1L729.4 441.6L729.5 442.3L729.6 443.1L729.7 444.6L729.8 446.1L729.9 447.6L730.0 449.1L730.1 450.6L730.2 452.1L730.3 453.6L730.5 455.1L730.6 456.6L730.7 458.0L730.8 459.5L731.0 461.0L731.1 462.5L731.3 464.0L731.4 465.5L731.6 467.0L731.7 467.9L731.8 468.5L732.0 470.0L732.1 471.5L732.4 473.0L732.6 474.4L732.8 475.9L733.1 477.4L733.3 478.9L733.6 480.4L733.9 481.8L734.2 483.3L734.5 484.6L734.5 484.8L734.9 486.2L735.3 487.6L735.8 489.1L736.3 490.5L736.8 491.9L737.4 493.3L737.9 494.7L738.4 495.8L738.5 496.1L739.1 497.5L739.7 498.9L740.3 500.4L740.9 501.8L741.6 503.1L742.4 504.4L743.2 505.5L743.4 505.8L744.1 506.6L745.1 507.5L746.2 508.5L747.4 509.3L748.7 510.2L750.1 511.0L751.4 511.8L752.8 512.5L754.2 513.3L755.5 514.0L755.7 514.1L756.8 514.7L758.1 515.4L759.5 516.1L760.8 516.8L762.2 517.5L763.6 518.1L765.0 518.7L766.4 519.2L767.8 519.7L767.9 519.7L769.2 520.1L770.6 520.5L772.1 520.9L773.5 521.2L775.0 521.6L776.5 521.9L778.0 522.2L779.5 522.4L780.2 522.5L780.9 522.6L782.4 522.8L783.9 523.0L785.4 523.2L786.9 523.3L788.4 523.5L789.9 523.6L791.4 523.7L792.9 523.8L794.4 523.8L794.6 523.8L795.9 523.8L797.4 523.8L798.9 523.8L800.4 523.8L801.9 523.7L803.4 523.7L804.9 523.7L806.4 523.6L807.4 523.6L807.9 523.6L809.4 523.4L810.9 523.0L812.3 522.5L813.8 521.9L815.2 521.2L816.4 520.5L816.9 520.2L817.6 519.7L818.7 518.7L819.7 517.5L820.6 516.2L820.8 515.8L821.2 514.9L821.8 513.6L822.2 512.2L822.7 510.7L823.1 509.2L823.4 507.7L823.8 506.2L824.1 504.8L824.1 504.7L824.4 503.3L824.7 501.8L824.9 500.4L825.2 498.9L825.4 497.4L825.6 495.9L825.8 494.4L826.0 492.9L826.2 491.4L826.4 490.2L826.4 489.9L826.6 488.5L826.8 487.0L827.0 485.5L827.2 484.0L827.4 482.5L827.6 481.0L827.7 479.5L827.9 478.0L828.0 476.8L828.0 476.5L828.1 475.0L828.2 473.6L828.4 472.1L828.4 470.6L828.5 469.1L828.6 467.6L828.7 466.1L828.8 464.6L828.9 463.1L828.9 462.4L828.9 461.6L829.0 460.1L829.1 458.6L829.1 457.1L829.2 455.6L829.3 454.1L829.3 452.6L829.4 451.1L829.4 449.6L829.5 448.1L829.6 446.6L829.6 445.1L829.7 443.6L829.7 443.4L829.8 442.1L829.8 440.6L829.9 439.1L830.0 437.6L830.1 436.1L830.2 434.6L830.3 433.1L830.4 431.6L830.5 430.1L830.5 428.6L830.6 427.1L830.7 425.6L830.8 424.1L830.8 423.4L830.8 422.6L830.9 420.9L831.0 419.1L831.0 417.2L831.1 415.2L831.1 413.2L831.2 411.2L831.2 409.3L831.3 407.5L831.3 405.7L831.4 404.2L831.4 402.8L831.4 401.7L831.5 400.9L831.5 400.4L831.6 400.2L831.6 400.2L831.7 400.4L831.7 401.0L831.8 401.8L831.8 403.0L831.9 404.3L831.9 405.9L832.0 407.6L832.1 409.5L832.1 411.4L832.2 413.4L832.2 415.4L832.3 417.4L832.4 419.3L832.4 421.1L832.5 422.7L832.5 423.4L832.5 424.3L832.6 425.8L832.6 427.3L832.7 428.8L832.7 430.3L832.8 431.8L832.8 433.3L832.9 434.7L832.9 436.2L833.0 437.7L833.1 439.2L833.1 440.7L833.2 442.2L833.2 443.7L833.3 445.2L833.3 446.7L833.4 448.2L833.4 449.7L833.5 451.2L833.5 452.7L833.6 454.2L833.6 454.6L833.6 455.7L833.7 457.2L833.8 458.7L833.8 460.2L833.9 461.7L833.9 463.2L834.0 464.7L834.0 466.2L834.1 467.7L834.1 469.2L834.2 470.7L834.3 472.2L834.3 473.7L834.4 475.2L834.5 476.7L834.6 478.2L834.7 479.7L834.7 480.2L834.8 481.2L834.9 482.7L835.0 484.2L835.2 485.7L835.4 487.2L835.5 488.7L835.7 490.2L836.0 491.7L836.2 493.2L836.5 494.6L836.7 496.1L836.9 496.9L837.0 497.5L837.4 499.0L837.9 500.4L838.4 501.8L838.9 503.2L839.5 504.6L840.2 506.0L840.8 507.4L840.8 507.4L841.4 508.7L842.1 510.1L842.8 511.5L843.6 512.8L844.4 514.0L845.3 515.2L845.8 515.8L846.3 516.3L847.3 517.3L848.5 518.3L849.7 519.3L851.0 520.1L852.4 520.7L852.5 520.8L853.7 521.3L855.1 521.8L856.6 522.2L858.1 522.6L859.5 522.9L860.3 523.0L861.0 523.1L862.5 523.3L864.0 523.5L865.5 523.6L867.0 523.8L868.5 523.9L870.0 524.0L871.5 524.1L873.0 524.1L873.9 524.1L874.5 524.1L876.1 524.0L877.7 523.9L879.3 523.7L880.9 523.4L882.5 523.0L884.0 522.7L885.4 522.2L886.6 521.8L887.3 521.4L887.6 521.2L888.5 520.4L889.3 519.2L890.1 517.7L890.8 516.1L891.4 514.6L891.7 513.6L891.8 513.2L892.3 511.8L892.7 510.3L893.1 508.9L893.4 507.4L893.7 505.9L894.0 504.4L894.2 502.9L894.5 501.4L894.5 501.3L894.7 500.0L894.9 498.5L895.1 497.0L895.3 495.5L895.4 494.0L895.6 492.5L895.7 491.0L895.9 489.5L896.0 488.0L896.1 486.5L896.2 485.7L896.3 485.0L896.4 483.5L896.5 482.1L896.6 480.6L896.7 479.1L896.8 477.6L896.8 476.1L896.9 474.6L897.0 473.1L897.1 471.6L897.2 470.1L897.3 468.6L897.3 467.9L897.3 467.1L897.4 465.6L897.5 464.1L897.6 462.6L897.7 461.1L897.7 459.6L897.8 458.1L897.9 456.6L898.0 455.1L898.0 453.6L898.1 452.1L898.2 450.6L898.2 449.1L898.3 447.6L898.4 446.1L898.4 445.7L898.4 444.6L898.5 443.1L898.6 441.6L898.7 440.1L898.7 438.6L898.8 437.1L898.8 435.6L898.9 434.1L899.0 432.6L899.0 431.1L899.1 429.6L899.1 428.1L899.2 426.7L899.2 426.6L899.3 425.0L899.3 423.3L899.4 421.5L899.4 419.6L899.5 417.6L899.5 415.6L899.6 413.6L899.6 411.6L899.7 409.7L899.7 407.9L899.8 406.2L899.8 404.6L899.9 403.2L899.9 401.9L900.0 400.9L900.0 400.2L900.1 399.7L900.1 399.5L900.1 399.5L900.1 399.6L900.2 400.0L900.2 400.5L900.3 401.3L900.3 402.3L900.3 403.4L900.4 404.7L900.4 406.2L900.4 407.8L900.5 409.4L900.5 411.2L900.6 413.1L900.6 415.0L900.6 417.0L900.7 418.9L900.7 420.9L900.7 422.9L900.8 424.9L900.8 426.8L900.9 428.7L900.9 430.5L900.9 432.2L901.0 433.8L901.0 434.5L901.0 435.4L901.1 436.9L901.1 438.4L901.2 439.9L901.2 441.4L901.3 442.9L901.3 444.4L901.4 445.9L901.4 447.4L901.5 448.9L901.5 450.4L901.6 451.9L901.7 453.3L901.7 454.8L901.8 456.3L901.8 456.8L901.8 457.8L901.9 459.3L902.0 460.8L902.0 462.3L902.1 463.8L902.2 465.3L902.2 466.8L902.3 468.3L902.4 469.8L902.5 471.3L902.5 472.8L902.6 474.3L902.7 475.8L902.8 477.3L902.9 478.8L902.9 479.1L903.0 480.3L903.1 481.8L903.2 483.3L903.3 484.8L903.4 486.3L903.6 487.8L903.7 489.3L903.8 490.8L904.0 492.3L904.0 492.4L904.1 493.8L904.3 495.3L904.5 496.8L904.7 498.3L904.9 499.7L905.1 501.2L905.4 502.7L905.6 504.2L905.9 505.7L906.2 506.9L906.2 507.1L906.6 508.6L907.0 510.1L907.5 511.5L908.1 512.9L908.7 514.2L909.0 514.7L909.5 515.4L910.3 516.6L911.4 517.8L912.5 518.9L913.7 519.9L914.9 520.9L916.2 521.6L916.8 521.9L917.5 522.2L918.9 522.8L920.4 523.2L921.9 523.5L922.4 523.6L923.3 523.7L924.8 523.8L926.4 523.9L927.9 524.0L929.4 524.0L930.9 524.1L932.4 524.1L933.5 524.1L933.8 524.1L935.3 523.8L936.8 523.3L938.2 522.5L939.6 521.7L940.7 520.7L941.3 520.2L941.7 519.8L942.5 518.6L943.2 517.3L943.8 515.8L944.4 514.3L944.6 513.6L944.8 512.9L945.2 511.5L945.6 510.0L945.9 508.5L946.2 507.0L946.5 505.6L946.6 504.7L946.7 504.1L946.9 502.6L947.1 501.1L947.3 499.6L947.5 498.1L947.6 496.6L947.8 495.1L947.9 493.6L948.0 492.4L948.0 492.2L948.1 490.7L948.2 489.2L948.3 487.7L948.4 486.2L948.4 484.7L948.5 483.2L948.6 481.7L948.6 480.2L948.7 478.7L948.7 477.2L948.8 475.7L948.9 474.2L948.9 472.7L949.0 471.2L949.0 469.7L949.1 468.2L949.1 467.9L949.2 466.7L949.2 465.2L949.3 463.7L949.4 462.2L949.4 460.7L949.5 459.2L949.6 457.7L949.6 456.2L949.7 454.7L949.7 453.2L949.8 451.7L949.9 450.2L949.9 448.7L950.0 447.2L950.0 445.7L950.0 445.7L950.0 444.1L950.1 442.5L950.1 440.8L950.1 439.0L950.2 437.2L950.2 435.3L950.2 433.4L950.3 431.4L950.3 429.4L950.3 427.4L950.3 425.4L950.4 423.4L950.4 421.4L950.4 419.5L950.4 417.6L950.4 415.7L950.5 413.9L950.5 412.1L950.5 410.5L950.5 408.9L950.6 407.4L950.6 406.0L950.6 404.7L950.6 403.5L950.6 402.5L950.7 401.6L950.7 400.8L950.7 400.2L950.7 399.8L950.8 399.6L950.8 399.5L950.8 399.5L950.8 399.6L950.9 400.0L950.9 400.4L950.9 401.1L951.0 401.9L951.0 402.9L951.0 404.0L951.1 405.2L951.1 406.5L951.1 408.0L951.1 409.5L951.2 411.1L951.2 412.8L951.2 414.6L951.3 416.4L951.3 418.3L951.4 420.3L951.4 422.2L951.4 424.2L951.5 426.2L951.5 428.2L951.5 430.2L951.6 432.2L951.6 434.1L951.7 436.0L951.7 437.9L951.7 439.7L951.8 441.5L951.8 443.2L951.9 444.8L951.9 445.7L951.9 446.3L952.0 447.8L952.0 449.3L952.1 450.8L952.1 452.3L952.2 453.8L952.2 455.3L952.3 456.8L952.3 458.3L952.4 459.8L952.4 461.3L952.5 462.8L952.6 464.3L952.6 465.8L952.7 467.3L952.8 468.8L952.8 470.3L952.9 471.8L953.0 473.3L953.0 473.5L953.1 474.8L953.1 476.3L953.2 477.8L953.3 479.3L953.4 480.8L953.5 482.3L953.6 483.8L953.7 485.3L953.8 486.7L953.9 488.2L954.1 489.7L954.2 491.2L954.3 492.7L954.4 494.2L954.6 495.7L954.6 495.8L954.7 497.2L954.9 498.7L955.1 500.2L955.3 501.7L955.5 503.2L955.7 504.7L955.9 506.1L956.2 507.6L956.3 508.0L956.5 509.1L956.9 510.6L957.3 512.1L957.7 513.6L958.2 515.0L958.8 516.4L959.4 517.8L960.1 519.0L960.2 519.1L961.0 520.1L962.1 521.3L963.3 522.3L964.6 523.0L964.7 523.0L965.9 523.3L967.3 523.7L968.8 524.0L970.4 524.2L971.9 524.4L973.5 524.5L974.7 524.5L975.0 524.5L976.5 524.5L977.9 524.5L979.4 524.5L980.9 524.5L982.4 524.6L983.9 524.6L985.4 524.6L986.9 524.6L988.4 524.6L989.9 524.6L991.4 524.6L993.0 524.6L994.5 524.6L996.0 524.6L997.5 524.6L999.0 524.6L1000.5 524.6L1001.0 524.6L1002.0 524.6L1003.5 524.6L1005.0 524.6L1006.5 524.6L1008.0 524.6L1009.5 524.5L1011.0 524.5L1012.5 524.5L1014.0 524.5L1015.5 524.5L1017.0 524.4L1018.3 524.4L1018.5 524.4L1020.0 524.4L1021.5 524.3L1023.0 524.3L1024.5 524.2L1026.0 524.1L1027.4 524.0L1028.9 523.9L1030.4 523.8L1031.9 523.7L1033.4 523.6L1034.9 523.5L1036.4 523.4L1037.9 523.3L1039.4 523.1L1040.9 523.0L1042.4 522.9L1043.9 522.7L1045.4 522.6L1046.9 522.5L1048.4 522.4L1049.9 522.2L1051.4 522.1L1052.8 522.0L1052.9 522.0L1054.4 521.9L1055.9 521.8L1057.4 521.6L1058.9 521.5L1060.4 521.4L1061.9 521.3L1063.3 521.1L1064.8 521.0L1066.3 520.9L1067.8 520.8L1069.3 520.6L1070.8 520.5L1072.3 520.4L1073.8 520.2L1075.3 520.1L1076.8 520.0L1078.3 519.9L1079.8 519.7L1081.3 519.6L1082.5 519.5L1082.8 519.5L1084.3 519.4L1085.8 519.2L1087.3 519.1L1088.8 519.0L1090.3 518.9L1091.8 518.8L1093.3 518.7L1094.7 518.6L1096.2 518.5L1097.7 518.3L1099.2 518.2L1100.7 518.1L1102.2 518.0L1103.7 517.8L1105.2 517.7L1106.7 517.6L1107.2 517.5L1108.2 517.4L1109.7 517.2L1111.2 517.1L1112.7 516.9L1114.1 516.7L1115.6 516.5L1117.1 516.3L1118.6 516.1L1120.1 515.9L1121.6 515.6L1123.1 515.4L1124.5 515.2L1126.0 515.0L1127.5 514.8L1129.0 514.6L1130.5 514.3L1132.0 514.1L1133.5 513.9L1134.3 513.8L1134.9 513.7L1136.4 513.5L1137.9 513.3L1139.4 513.1L1140.9 512.9L1142.4 512.7L1143.9 512.5L1145.3 512.3L1146.8 512.1L1148.3 511.9L1149.8 511.7L1151.3 511.5L1152.8 511.3L1154.3 511.1L1155.8 510.9L1157.2 510.7L1158.7 510.5L1160.2 510.3L1161.5 510.1L1161.7 510.1L1163.2 509.9L1164.7 509.7L1166.2 509.5L1167.6 509.3L1169.1 509.1L1170.6 508.9L1172.1 508.7L1173.6 508.5L1175.1 508.3L1176.6 508.1L1178.0 507.9L1179.5 507.6L1181.0 507.4L1182.5 507.2L1184.0 507.0L1185.5 506.8L1187.0 506.6L1188.4 506.4L1188.6 506.4L1189.9 506.2L1191.4 506.0L1192.9 505.8L1194.4 505.6L1195.9 505.4L1197.4 505.2L1198.8 505.0L1200.3 504.7L1201.8 504.5L1203.3 504.3L1204.8 504.1L1206.3 503.9L1207.8 503.7L1209.2 503.5L1210.7 503.3L1212.2 503.0L1213.7 502.8L1214.6 502.7L1215.2 502.6L1216.7 502.4L1218.2 502.2L1219.6 502.0L1221.1 501.8L1222.6 501.5L1224.1 501.3L1225.6 501.1L1227.1 500.9L1228.5 500.7L1230.0 500.5L1231.5 500.3L1233.0 500.1L1234.5 499.8L1236.0 499.6L1237.5 499.4L1238.9 499.2L1240.4 499.0L1240.5 499.0L1241.9 498.8L1243.4 498.6L1244.9 498.4L1246.4 498.2L1247.9 498.0L1249.4 497.8L1250.8 497.7L1252.3 497.5L1253.8 497.3L1255.3 497.1L1256.8 496.9L1258.3 496.7L1259.8 496.5L1261.3 496.3L1262.7 496.1L1264.2 495.9L1265.7 495.7L1266.9 495.5L1267.2 495.5L1268.7 495.2L1270.2 495.0L1271.6 494.8L1273.1 494.5L1274.6 494.3L1276.1 494.0L1277.5 493.8L1279.0 493.5L1280.5 493.2L1282.0 493.0L1283.5 492.7L1284.9 492.4L1286.4 492.2L1287.9 491.9L1289.4 491.6L1290.8 491.3L1292.3 491.1L1293.8 490.8L1295.3 490.5L1296.7 490.2L1298.2 489.9L1299.7 489.6L1301.1 489.3L1302.6 489.1L1304.1 488.8L1305.6 488.5L1307.0 488.2L1308.5 487.9L1310.0 487.6L1311.5 487.3L1312.9 487.0L1314.4 486.8L1315.9 486.5L1317.3 486.2L1318.8 485.9L1318.8 485.9L1320.3 485.6L1321.8 485.3L1323.2 485.0L1324.7 484.8L1326.2 484.5L1327.7 484.2L1329.1 483.9L1330.6 483.6L1332.1 483.3L1333.5 483.1L1335.0 482.8L1336.5 482.5L1338.0 482.2L1339.4 481.9L1340.9 481.6L1342.4 481.3L1343.9 481.0L1345.3 480.7L1346.8 480.5L1348.3 480.2L1349.7 479.9L1351.2 479.6L1352.7 479.3L1354.2 479.0L1355.6 478.7L1357.1 478.4L1358.6 478.1L1360.0 477.8L1361.5 477.5L1363.0 477.2L1364.4 476.9L1365.9 476.6L1367.4 476.3L1368.8 476.0L1370.3 475.7L1370.6 475.6L1371.8 475.4L1373.2 475.0L1374.7 474.7L1376.2 474.4L1377.6 474.1L1379.1 473.8L1380.6 473.4L1382.0 473.1L1383.5 472.8L1385.0 472.5L1386.4 472.1L1387.9 471.8L1389.4 471.5L1390.8 471.1L1392.3 470.8L1393.7 470.5L1395.2 470.1L1396.7 469.8L1398.1 469.5L1399.6 469.1L1401.1 468.8L1402.5 468.5L1404.0 468.1L1405.4 467.8L1406.9 467.5L1408.4 467.1L1409.8 466.8L1411.3 466.5L1412.8 466.1L1414.2 465.8L1415.7 465.5L1417.1 465.1L1418.6 464.8L1420.1 464.5L1421.5 464.2L1423.0 463.9L1423.7 463.7L1424.5 463.5L1425.9 463.2L1427.4 462.9L1428.9 462.6L1430.3 462.3L1431.8 462.0L1433.3 461.7L1434.7 461.4L1436.2 461.1L1437.7 460.8L1439.2 460.5L1440.6 460.2L1442.1 459.9L1443.6 459.6L1445.0 459.3L1446.5 459.0L1448.0 458.7L1449.4 458.4L1450.9 458.1L1452.4 457.8L1453.9 457.5L1455.3 457.2L1456.8 456.9L1458.3 456.6L1459.7 456.3L1461.2 455.9L1462.7 455.6L1464.1 455.3L1465.6 455.0L1467.1 454.7L1468.5 454.4L1470.0 454.1L1471.5 453.8L1472.9 453.5L1474.4 453.1L1475.9 452.8L1476.8 452.6L1477.3 452.5L1478.8 452.2L1480.3 451.8L1481.7 451.5L1483.2 451.1L1484.6 450.8L1486.1 450.5L1487.6 450.1L1489.0 449.8L1490.5 449.4L1491.9 449.1L1493.4 448.7L1494.9 448.4L1496.3 448.0L1497.8 447.7L1499.2 447.3L1500.7 447.0L1502.1 446.6L1503.6 446.2L1505.1 445.9L1506.5 445.5L1508.0 445.2L1509.4 444.8L1510.9 444.5L1512.3 444.1L1513.8 443.7L1515.3 443.4L1516.7 443.0L1518.2 442.7L1519.6 442.3L1521.1 442.0L1522.6 441.6L1524.0 441.3L1525.5 440.9L1526.9 440.6L1528.4 440.2L1528.6 440.2L1529.8 439.9L1531.3 439.6L1532.8 439.2L1534.2 438.9L1535.7 438.5L1537.2 438.2L1538.6 437.9L1540.1 437.5L1541.5 437.2L1543.0 436.9L1544.5 436.5L1545.9 436.2L1547.4 435.8L1548.8 435.5L1550.3 435.2L1551.8 434.8L1553.2 434.5L1554.7 434.2L1556.2 433.8L1557.6 433.5L1559.1 433.2L1560.5 432.8L1562.0 432.5L1563.5 432.2L1564.9 431.8L1566.4 431.5L1567.9 431.2L1569.3 430.9L1570.8 430.5L1572.3 430.2L1573.7 429.9L1575.2 429.5L1576.6 429.2L1578.1 428.9L1579.6 428.6L1581.0 428.2L1582.5 427.9" stroke="#dc00be" stroke-width="3.6" stroke-dasharray="27.8 8.6 8.5 8.6"/>
<path d="M174.8 923.5L176.3 923.3L177.8 923.0L179.2 922.8L180.7 922.5L182.2 922.2L183.7 922.0L185.2 921.7L186.6 921.4L188.1 921.2L189.6 920.9L191.1 920.6L192.5 920.3L194.0 920.1L195.5 919.8L197.0 919.5L198.4 919.2L199.9 918.9L201.4 918.6L202.8 918.3L204.3 918.0L205.8 917.7L206.9 917.5L207.3 917.4L208.7 917.1L210.2 916.8L211.7 916.5L213.1 916.2L214.6 915.8L216.1 915.5L217.5 915.2L219.0 914.9L220.4 914.5L221.9 914.2L223.4 913.9L224.8 913.5L226.3 913.2L226.7 913.1L227.8 912.9L229.2 912.5L230.7 912.2L232.2 911.9L233.6 911.6L235.1 911.2L236.6 910.9L238.0 910.6L239.5 910.3L241.0 909.9L242.4 909.6L243.9 909.3L245.4 908.9L246.8 908.6L248.3 908.3L249.7 907.9L251.2 907.6L252.7 907.2L254.1 906.9L255.6 906.5L257.0 906.2L258.5 905.8L258.8 905.7L259.9 905.4L261.4 905.0L262.8 904.6L264.3 904.2L265.7 903.8L267.1 903.3L268.6 902.9L270.0 902.5L271.5 902.1L272.9 901.6L274.3 901.2L275.8 900.8L277.2 900.4L278.5 900.0L278.7 900.0L280.1 899.6L281.6 899.2L283.0 898.8L284.5 898.4L285.9 898.0L287.4 897.6L288.8 897.3L290.3 896.9L291.7 896.5L293.2 896.2L294.7 895.8L296.1 895.4L297.6 895.0L299.0 894.7L300.5 894.3L301.9 893.9L303.4 893.5L304.8 893.1L306.3 892.7L307.7 892.3L309.1 891.8L310.6 891.4L310.6 891.4L312.0 891.0L313.4 890.5L314.8 890.0L316.3 889.5L317.7 889.0L319.1 888.5L320.5 888.0L321.9 887.5L323.3 886.9L324.7 886.4L326.1 885.9L327.5 885.4L328.9 884.8L330.3 884.3L330.4 884.3L331.8 883.8L333.2 883.3L334.6 882.8L336.0 882.3L337.4 881.7L338.8 881.2L340.2 880.7L341.6 880.2L343.0 879.7L344.4 879.1L345.8 878.6L347.2 878.1L348.6 877.6L350.1 877.0L351.5 876.5L352.9 876.0L354.3 875.5L355.7 874.9L357.1 874.4L358.5 873.8L359.9 873.3L361.2 872.8L361.3 872.8L362.7 872.2L364.1 871.7L365.5 871.1L366.9 870.6L368.3 870.0L369.7 869.5L371.1 868.9L372.5 868.4L373.9 867.8L375.2 867.3L376.6 866.7L378.0 866.1L379.4 865.6L379.8 865.4L380.8 865.0L382.2 864.4L383.6 863.8L384.9 863.2L386.3 862.7L387.7 862.1L389.1 861.5L390.5 860.9L391.9 860.3L393.2 859.7L394.6 859.1L396.0 858.5L397.4 857.9L398.7 857.3L400.1 856.7L401.5 856.1L402.9 855.5L404.2 854.9L405.6 854.2L406.9 853.6L408.3 853.0L409.7 852.3L410.6 851.9L411.0 851.7L412.4 851.0L413.7 850.4L415.1 849.7L416.4 849.0L417.7 848.3L419.1 847.6L420.4 847.0L421.7 846.3L423.1 845.6L424.4 844.9L425.8 844.2L427.1 843.6L427.9 843.2L428.5 842.9L429.8 842.3L431.2 841.7L432.5 841.0L433.9 840.4L435.2 839.7L436.6 839.1L438.0 838.5L439.3 837.8L440.7 837.2L442.1 836.6L443.4 836.0L444.8 835.4L446.2 834.7L447.6 834.1L448.9 833.6L450.3 833.0L451.7 832.4L453.1 831.8L454.5 831.3L455.9 830.7L457.3 830.2L458.7 829.6L458.8 829.6L460.1 829.1L461.5 828.5L462.9 827.9L464.3 827.3L465.7 826.6L467.2 826.0L468.6 825.5L470.0 824.9L471.5 824.5L472.9 824.1L474.3 823.8L475.8 823.6L477.2 823.5L477.3 823.5L478.7 823.6L480.2 823.8L481.8 824.2L483.3 824.7L484.7 825.3L485.9 825.9L485.9 825.9L487.0 826.6L488.0 827.6L488.9 828.9L489.8 830.2L490.6 831.6L491.4 833.0L492.0 834.4L492.1 834.6L492.6 835.8L493.1 837.1L493.6 838.6L494.1 840.0L494.5 841.5L494.9 842.9L495.3 844.4L495.6 845.9L495.8 846.9L495.9 847.4L496.1 848.8L496.4 850.3L496.6 851.8L496.8 853.2L497.0 854.7L497.2 856.2L497.4 857.7L497.6 859.2L497.8 860.7L498.0 862.2L498.1 863.7L498.3 865.2L498.5 866.7L498.6 868.2L498.7 869.7L498.9 871.2L499.0 872.7L499.1 874.2L499.2 875.7L499.4 877.2L499.5 878.7L499.5 879.0L499.6 880.2L499.7 881.7L499.8 883.2L499.9 884.7L500.0 886.2L500.1 887.7L500.2 889.2L500.2 890.7L500.3 892.2L500.4 893.7L500.5 895.2L500.5 896.7L500.6 898.2L500.7 899.7L500.7 900.0L500.8 901.2L500.8 902.7L500.9 904.2L501.0 905.7L501.0 907.2L501.1 908.7L501.2 910.2L501.2 911.6L501.3 913.1L501.3 914.6L501.4 916.1L501.4 917.6L501.5 919.1L501.5 920.0L501.5 920.6L501.6 922.2L501.6 923.7L501.6 925.2L501.6 926.7L501.7 928.2L501.7 929.7L501.7 931.2L501.7 932.7L501.8 934.2L501.8 935.7L501.8 937.2L501.9 938.7L501.9 940.2L501.9 941.7L502.0 943.2L502.0 944.0L502.0 944.7L502.1 946.2L502.2 947.7L502.3 949.2L502.4 950.7L502.5 952.1L502.5 952.6L502.6 953.6L502.7 955.1L502.8 956.6L502.9 958.1L503.0 959.6L503.1 961.1L503.2 962.6L503.3 964.1L503.5 965.6L503.6 967.1L503.7 968.6L503.7 970.1L503.8 971.6L503.9 973.1L503.9 973.6L503.9 974.6L504.0 976.1L504.0 977.6L504.1 979.1L504.1 980.6L504.1 982.1L504.2 983.6L504.2 985.1L504.2 986.6L504.3 988.1L504.3 989.6L504.3 991.1L504.4 992.6L504.4 994.1L504.4 995.6L504.4 997.1L504.5 998.6L504.5 1000.1L504.5 1001.6L504.6 1003.1L504.6 1004.6L504.7 1006.1L504.7 1006.9L504.7 1007.6L504.8 1009.1L504.8 1010.6L504.9 1012.1L505.0 1013.6L505.0 1015.1L505.1 1016.6L505.2 1018.1L505.2 1019.6L505.3 1021.1L505.4 1022.6L505.5 1024.1L505.6 1025.6L505.7 1027.1L505.7 1027.9L505.7 1028.6L505.8 1030.1L505.9 1031.6L506.0 1033.1L506.1 1034.6L506.2 1036.1L506.3 1037.6L506.4 1039.1L506.5 1040.6L506.6 1042.2L506.7 1043.7L506.9 1045.2L507.0 1046.7L507.1 1048.2L507.2 1049.7L507.4 1051.2L507.5 1052.6L507.7 1054.1L507.9 1055.6L508.1 1057.1L508.2 1058.6L508.4 1060.0L508.6 1061.2L508.6 1061.5L508.9 1063.0L509.1 1064.6L509.4 1066.1L509.8 1067.7L510.2 1069.3L510.6 1070.9L511.0 1072.4L511.5 1073.9L512.0 1075.3L512.6 1076.7L513.2 1077.9L513.8 1079.0L514.3 1079.8L514.5 1080.0L515.4 1081.0L516.5 1082.0L517.7 1083.0L519.1 1084.0L520.6 1084.8L522.1 1085.4L523.6 1085.8L525.0 1086.0L525.2 1086.0L526.4 1086.0L527.8 1085.8L529.3 1085.6L530.7 1085.3L532.2 1085.0L533.6 1084.5L535.1 1084.1L536.6 1083.6L538.1 1083.1L539.5 1082.5L541.0 1082.0L542.4 1081.4L543.9 1080.9L545.0 1080.5L545.3 1080.4L546.7 1079.9L548.1 1079.3L549.4 1078.7L550.8 1078.1L552.1 1077.5L553.5 1076.8L554.8 1076.1L556.2 1075.5L557.5 1074.8L558.9 1074.1L560.2 1073.4L561.6 1072.7L562.9 1072.0L563.2 1071.9L564.3 1071.4L565.6 1070.7L566.9 1070.0L568.3 1069.4L569.6 1068.7L571.0 1068.0L572.3 1067.4L573.6 1066.7L575.0 1066.0L576.3 1065.3L577.7 1064.6L579.0 1063.9L580.3 1063.2L581.7 1062.6L583.0 1061.9L584.3 1061.2L585.7 1060.5L587.0 1059.8L588.3 1059.1L589.7 1058.4L591.0 1057.7L592.3 1057.0L592.8 1056.8L593.7 1056.4L595.0 1055.7L596.3 1055.0L597.7 1054.3L599.0 1053.6L600.3 1052.9L601.7 1052.2L603.0 1051.5L604.3 1050.8L605.7 1050.1L607.0 1049.5L608.3 1048.8L609.7 1048.1L611.0 1047.4L611.4 1047.2L612.3 1046.7L613.7 1046.0L615.0 1045.4L616.3 1044.7L617.7 1044.0L619.0 1043.3L620.4 1042.6L621.7 1042.0L623.0 1041.3L624.4 1040.6L625.7 1039.9L627.1 1039.3L628.4 1038.6L629.7 1037.9L631.1 1037.2L632.4 1036.6L633.8 1035.9L635.1 1035.2L636.5 1034.5L637.8 1033.9L639.1 1033.2L640.5 1032.6L641.0 1032.3L641.8 1031.9L643.2 1031.2L644.5 1030.6L645.9 1029.9L647.2 1029.2L648.6 1028.6L649.9 1027.9L651.3 1027.2L652.6 1026.6L654.0 1025.9L655.3 1025.3L656.7 1024.7L658.0 1024.0L658.8 1023.7L659.4 1023.4L660.8 1022.8L662.2 1022.2L663.5 1021.7L664.9 1021.1L666.3 1020.5L667.7 1019.9L669.1 1019.4L670.5 1018.8L671.9 1018.3L673.3 1017.7L674.7 1017.2L676.1 1016.6L677.5 1016.1L678.9 1015.5L680.3 1015.0L681.7 1014.4L683.1 1013.9L684.5 1013.3L685.9 1012.8L687.3 1012.2L688.6 1011.6L689.9 1011.1L690.0 1011.0L691.4 1010.5L692.8 1009.9L694.2 1009.3L695.5 1008.6L696.9 1008.0L698.3 1007.4L699.6 1006.8L701.0 1006.2L702.4 1005.6L703.8 1005.0L705.1 1004.4L706.5 1003.8L707.9 1003.3L708.1 1003.2L709.3 1002.7L710.7 1002.2L712.1 1001.7L713.5 1001.1L714.9 1000.6L716.3 1000.1L717.8 999.6L719.2 999.1L720.6 998.6L722.0 998.1L723.4 997.6L724.8 997.1L726.3 996.6L727.7 996.1L729.1 995.6L730.5 995.1L731.9 994.7L733.4 994.2L734.8 993.7L736.2 993.2L737.6 992.7L739.0 992.2L739.3 992.1L740.4 991.7L741.9 991.2L743.3 990.7L744.7 990.2L746.1 989.7L747.5 989.2L748.9 988.7L750.3 988.2L751.8 987.7L753.2 987.2L754.6 986.7L756.0 986.2L757.4 985.7L758.3 985.4L758.8 985.2L760.3 984.7L761.7 984.3L763.1 983.8L764.5 983.3L766.0 982.8L767.4 982.4L768.8 981.9L770.2 981.4L771.7 981.0L773.1 980.5L774.5 980.1L776.0 979.6L777.4 979.1L778.8 978.7L780.2 978.2L781.7 977.7L783.1 977.3L784.5 976.8L785.9 976.3L787.4 975.8L788.8 975.4L790.2 974.9L790.4 974.8L791.6 974.4L793.0 973.9L794.4 973.3L795.9 972.8L797.3 972.3L798.7 971.8L800.1 971.2L801.5 970.7L802.9 970.2L804.3 969.7L805.7 969.2L807.1 968.7L808.5 968.2L808.9 968.1L810.0 967.8L811.4 967.3L812.8 966.9L814.3 966.4L815.7 966.0L817.2 965.6L818.6 965.2L820.0 964.8L821.5 964.4L822.9 964.0L824.4 963.6L825.8 963.2L827.3 962.8L828.7 962.4L830.2 962.0L831.6 961.6L833.1 961.2L834.5 960.7L836.0 960.3L837.4 959.9L838.8 959.5L840.3 959.0L841.0 958.8L841.7 958.6L843.1 958.1L844.6 957.7L846.0 957.2L847.4 956.7L848.8 956.2L850.2 955.7L851.7 955.3L853.1 954.8L854.5 954.3L855.9 953.8L857.3 953.3L858.8 952.8L859.5 952.6L860.2 952.4L861.6 951.9L863.0 951.4L864.5 951.0L865.9 950.5L867.3 950.0L868.8 949.6L870.2 949.1L871.6 948.6L873.0 948.2L874.5 947.7L875.9 947.3L877.3 946.8L878.7 946.3L880.2 945.9L881.6 945.4L883.0 945.0L884.5 944.5L885.9 944.0L887.3 943.6L888.7 943.1L890.2 942.7L891.6 942.2L891.6 942.2L893.0 941.7L894.5 941.3L895.9 940.8L897.3 940.3L898.7 939.9L900.2 939.4L901.6 938.9L903.0 938.5L904.5 938.0L905.9 937.6L907.3 937.1L908.7 936.7L910.2 936.2L910.5 936.1L911.6 935.8L913.0 935.3L914.5 934.9L915.9 934.5L917.4 934.1L918.8 933.6L920.3 933.2L921.7 932.8L923.2 932.4L924.6 932.0L926.0 931.6L927.5 931.2L928.9 930.8L930.4 930.4L931.8 929.9L933.3 929.5L934.7 929.1L936.1 928.6L937.6 928.2L939.0 927.7L940.4 927.3L941.8 926.8L943.0 926.4L943.2 926.3L944.7 925.8L946.1 925.3L947.5 924.7L948.8 924.2L950.2 923.6L951.6 923.0L953.0 922.4L954.4 921.8L955.8 921.3L957.2 920.7L958.6 920.1L960.0 919.6L961.4 919.1L961.5 919.0L962.8 918.5L964.2 918.0L965.6 917.6L967.0 917.1L968.5 916.6L969.9 916.1L971.3 915.7L972.7 915.2L974.2 914.8L975.6 914.3L977.1 913.9L978.5 913.5L979.9 913.0L981.4 912.6L982.8 912.1L984.2 911.6L985.6 911.2L987.1 910.7L988.5 910.2L989.9 909.7L991.3 909.2L992.7 908.7L993.6 908.4L994.1 908.2L995.5 907.7L996.9 907.1L998.3 906.5L999.7 905.9L1001.0 905.3L1002.4 904.7L1003.8 904.1L1005.2 903.5L1006.5 902.8L1007.9 902.2L1009.3 901.7L1010.7 901.1L1012.1 900.5L1012.1 900.5L1013.5 900.0L1014.9 899.4L1016.3 898.9L1017.7 898.4L1019.1 897.9L1020.5 897.4L1021.9 896.9L1023.4 896.4L1024.8 896.0L1026.2 895.5L1027.6 895.0L1029.1 894.5L1030.5 894.0L1031.9 893.5L1033.3 893.0L1034.7 892.5L1036.1 892.0L1037.6 891.5L1039.0 891.0L1040.4 890.5L1041.7 889.9L1043.0 889.4L1043.1 889.3L1044.5 888.8L1045.9 888.2L1047.2 887.5L1048.6 886.9L1050.0 886.2L1051.3 885.6L1052.7 884.9L1054.0 884.3L1055.4 883.6L1056.7 882.9L1058.1 882.3L1059.4 881.6L1060.8 881.0L1061.5 880.7L1062.2 880.4L1063.5 879.8L1064.9 879.2L1066.3 878.6L1067.7 878.0L1069.1 877.5L1070.4 876.9L1071.8 876.3L1073.2 875.8L1074.6 875.2L1076.0 874.6L1077.4 874.1L1078.8 873.5L1080.2 873.0L1081.6 872.4L1083.0 871.8L1084.4 871.3L1085.7 870.7L1087.1 870.1L1088.5 869.5L1089.9 868.9L1091.3 868.3L1092.3 867.9L1092.6 867.7L1094.0 867.1L1095.4 866.5L1096.8 865.9L1098.1 865.3L1099.5 864.6L1100.8 864.0L1102.2 863.4L1103.5 862.7L1104.9 862.1L1106.3 861.4L1107.6 860.8L1109.0 860.2L1110.4 859.5L1110.9 859.3L1111.7 858.9L1113.1 858.3L1114.5 857.7L1115.8 857.1L1117.2 856.5L1118.6 855.9L1120.0 855.3L1121.3 854.7L1122.7 854.1L1124.1 853.5L1125.5 852.9L1126.9 852.3L1128.2 851.7L1129.6 851.1L1131.0 850.5L1132.4 849.9L1133.7 849.3L1135.1 848.7L1136.5 848.1L1137.8 847.4L1139.2 846.8L1140.5 846.2L1140.5 846.2L1141.9 845.5L1143.3 844.9L1144.6 844.2L1145.9 843.6L1147.3 842.9L1148.6 842.2L1150.0 841.5L1151.3 840.8L1152.6 840.2L1154.0 839.5L1155.3 838.8L1156.7 838.1L1158.0 837.5L1159.0 837.0L1159.4 836.8L1160.7 836.2L1162.1 835.5L1163.4 834.9L1164.8 834.3L1166.2 833.6L1167.5 833.0L1168.9 832.4L1170.3 831.8L1171.6 831.1L1173.0 830.5L1174.4 829.9L1175.7 829.3L1177.1 828.7L1178.5 828.0L1179.8 827.4L1181.2 826.8L1182.5 826.1L1183.9 825.5L1185.2 824.8L1186.6 824.2L1187.9 823.5L1188.6 823.2L1189.3 822.9L1190.6 822.2L1191.9 821.5L1193.3 820.8L1194.6 820.1L1195.9 819.3L1197.2 818.6L1198.5 817.9L1199.9 817.2L1201.2 816.5L1202.5 815.7L1203.8 815.0L1205.2 814.3L1206.5 813.7L1207.2 813.3L1207.8 813.0L1209.2 812.3L1210.5 811.7L1211.9 811.0L1213.2 810.4L1214.6 809.7L1216.0 809.1L1217.3 808.5L1218.7 807.9L1220.1 807.2L1221.4 806.6L1222.8 806.0L1224.2 805.4L1225.5 804.8L1226.9 804.1L1228.3 803.5L1229.6 802.9L1231.0 802.2L1232.3 801.6L1233.7 800.9L1235.0 800.3L1236.4 799.6L1236.8 799.4L1237.7 798.9L1239.0 798.2L1240.4 797.5L1241.7 796.8L1243.0 796.1L1244.3 795.3L1245.6 794.6L1246.9 793.9L1248.2 793.1L1249.5 792.4L1250.9 791.7L1252.2 791.0L1253.5 790.3L1254.8 789.6L1255.6 789.2L1256.2 788.9L1257.5 788.3L1258.9 787.6L1260.2 787.0L1261.6 786.4L1263.0 785.8L1264.4 785.2L1265.7 784.6L1267.1 784.0L1268.5 783.4L1269.9 782.8L1271.3 782.2L1272.6 781.6L1274.0 781.0L1275.4 780.4L1276.8 779.8L1278.2 779.2L1279.5 778.6L1280.9 778.0L1282.3 777.4L1283.6 776.8L1285.0 776.1L1285.4 775.9L1286.3 775.4L1287.7 774.8L1289.0 774.1L1290.3 773.3L1291.6 772.6L1292.9 771.9L1294.3 771.2L1295.6 770.4L1296.9 769.7L1298.2 769.0L1299.5 768.3L1300.8 767.6L1302.2 766.9L1303.5 766.2L1304.0 766.0L1304.9 765.6L1306.2 765.0L1307.6 764.4L1309.0 763.8L1310.4 763.2L1311.7 762.6L1313.1 762.0L1314.5 761.4L1315.9 760.9L1317.3 760.3L1318.7 759.8L1320.1 759.2L1321.5 758.7L1322.9 758.1L1324.3 757.6L1325.7 757.0L1327.1 756.4L1328.5 755.9L1329.9 755.3L1331.2 754.7L1332.6 754.1L1333.6 753.7L1334.0 753.5L1335.4 752.9L1336.7 752.3L1338.1 751.7L1339.5 751.0L1340.8 750.4L1342.2 749.7L1343.5 749.1L1344.9 748.4L1346.2 747.8L1347.6 747.2L1349.0 746.5L1350.3 745.9L1351.7 745.3L1353.1 744.7L1353.3 744.6L1354.5 744.1L1355.8 743.5L1357.2 742.9L1358.6 742.4L1360.0 741.8L1361.4 741.2L1362.8 740.7L1364.2 740.1L1365.6 739.6L1367.0 739.0L1368.4 738.5L1369.8 737.9L1371.2 737.4L1372.6 736.8L1374.0 736.3L1375.4 735.8L1376.8 735.2L1378.1 734.7L1379.5 734.1L1380.9 733.5L1382.3 733.0L1383.0 732.7L1383.7 732.4L1385.1 731.8L1386.5 731.2L1387.9 730.6L1389.2 730.1L1390.6 729.5L1392.0 728.9L1393.4 728.3L1394.8 727.7L1396.2 727.1L1397.5 726.5L1398.9 726.0L1400.3 725.4L1401.7 724.9L1402.0 724.8L1403.1 724.4L1404.5 723.9L1406.0 723.4L1407.4 722.9L1408.8 722.4L1410.2 722.0L1411.7 721.5L1413.1 721.1L1414.5 720.6L1416.0 720.2L1417.4 719.7L1418.8 719.3L1420.3 718.9L1421.7 718.4L1423.1 718.0L1424.6 717.5L1426.0 717.1L1427.4 716.6L1428.9 716.2L1430.3 715.7L1431.7 715.3L1432.8 714.9L1433.2 714.8L1434.6 714.3L1436.0 713.8L1437.4 713.3L1438.8 712.8L1440.2 712.3L1441.7 711.8L1443.1 711.3L1444.5 710.8L1445.9 710.3L1447.3 709.8L1448.7 709.3L1450.2 708.8L1451.6 708.3L1452.6 708.0L1453.0 707.9L1454.4 707.4L1455.9 707.0L1457.3 706.6L1458.7 706.1L1460.2 705.7L1461.6 705.3L1463.1 704.9L1464.5 704.5L1466.0 704.1L1467.4 703.7L1468.9 703.3L1470.3 702.9L1471.7 702.5L1473.2 702.1L1474.6 701.7L1476.1 701.2L1477.5 700.8L1479.0 700.4L1480.4 700.0L1481.9 699.6L1483.3 699.2L1484.2 698.9L1484.7 698.7L1486.2 698.3L1487.6 697.8L1489.0 697.4L1490.5 696.9L1491.9 696.4L1493.3 696.0L1494.7 695.5L1496.2 695.0L1497.6 694.6L1499.0 694.1L1500.5 693.7L1501.9 693.3L1503.3 692.9L1504.0 692.7L1504.8 692.5L1506.2 692.1L1507.7 691.7L1509.1 691.4L1510.6 691.0L1512.1 690.7L1513.5 690.3L1515.0 690.0L1516.5 689.7L1517.9 689.3L1519.4 689.0L1520.9 688.7L1522.3 688.4L1523.8 688.1L1525.3 687.7L1526.7 687.4L1528.2 687.1L1529.7 686.8L1531.1 686.4L1532.6 686.1L1534.0 685.8L1535.5 685.4L1536.0 685.3L1537.0 685.1L1538.4 684.7L1539.9 684.3L1541.3 684.0L1542.8 683.6L1544.2 683.2L1545.7 682.8L1547.2 682.5L1548.6 682.1L1550.1 681.7L1551.5 681.4L1553.0 681.0L1554.4 680.7L1555.8 680.4L1555.9 680.4L1557.4 680.1L1558.8 679.8L1560.3 679.5L1561.8 679.2L1563.3 678.9L1564.7 678.6L1566.2 678.3L1567.7 678.0L1569.2 677.8L1570.6 677.5L1572.1 677.2L1573.6 677.0L1575.1 676.7L1576.6 676.5L1578.0 676.3L1579.5 676.0L1581.0 675.8L1582.5 675.6" stroke="#0000ff" stroke-width="3.6" stroke-dasharray="34.2 19.3"/>
<path d="M174.8 761.7L176.3 761.5L177.8 761.2L179.2 761.0L180.7 760.7L182.2 760.5L183.7 760.2L185.2 760.0L186.6 759.7L188.1 759.5L189.6 759.2L191.1 758.9L192.6 758.6L194.0 758.4L195.5 758.1L197.0 757.8L198.4 757.5L199.5 757.3L199.9 757.2L201.4 756.9L202.9 756.6L204.3 756.3L205.8 756.0L207.2 755.6L208.7 755.3L210.2 755.0L211.6 754.6L213.1 754.3L214.6 753.9L216.0 753.6L217.5 753.2L218.9 752.9L220.4 752.5L221.9 752.2L223.3 751.9L224.8 751.5L226.3 751.2L226.7 751.1L227.7 750.9L229.2 750.6L230.7 750.3L232.1 750.0L233.6 749.7L235.1 749.4L236.5 749.1L238.0 748.8L239.5 748.5L241.0 748.2L242.4 747.9L243.9 747.6L245.4 747.3L246.8 747.0L248.3 746.7L249.8 746.4L251.2 746.0L252.6 745.7L252.7 745.7L254.1 745.3L255.6 744.9L257.0 744.6L258.5 744.2L259.9 743.8L261.4 743.3L262.8 742.9L264.3 742.5L265.7 742.1L267.1 741.6L268.6 741.2L270.0 740.8L271.5 740.3L272.9 739.9L274.3 739.5L275.8 739.1L277.2 738.7L278.5 738.3L278.7 738.3L280.1 737.9L281.6 737.5L283.0 737.1L284.5 736.8L285.9 736.4L287.4 736.0L288.9 735.7L290.3 735.3L291.8 735.0L293.2 734.6L294.7 734.2L296.2 733.9L297.6 733.5L299.1 733.1L300.5 732.7L301.9 732.3L303.4 731.9L304.4 731.6L304.8 731.5L306.2 731.0L307.7 730.6L309.1 730.1L310.5 729.6L311.9 729.1L313.3 728.6L314.7 728.0L316.1 727.5L317.5 727.0L318.9 726.4L320.4 725.9L321.8 725.4L323.2 724.8L324.6 724.3L326.0 723.8L327.4 723.3L328.8 722.8L330.2 722.3L330.4 722.2L331.6 721.8L333.1 721.3L334.5 720.8L335.9 720.4L337.3 719.9L338.8 719.5L340.2 719.0L341.6 718.6L343.1 718.1L344.5 717.7L345.9 717.2L347.4 716.8L348.8 716.3L350.2 715.8L351.6 715.3L353.1 714.8L354.5 714.3L355.1 714.1L355.9 713.8L357.3 713.3L358.7 712.7L360.1 712.2L361.4 711.6L362.8 711.0L364.2 710.4L365.6 709.8L367.0 709.2L368.3 708.6L369.7 708.0L371.1 707.4L372.5 706.8L373.8 706.2L375.2 705.6L376.6 705.0L378.0 704.5L379.4 703.9L379.8 703.7L380.8 703.3L382.2 702.7L383.5 702.2L384.9 701.6L386.3 701.1L387.7 700.5L389.1 700.0L390.5 699.4L391.9 698.9L393.3 698.3L394.7 697.8L396.1 697.2L397.5 696.6L398.9 696.1L400.3 695.5L401.7 694.9L403.0 694.4L404.4 693.8L404.4 693.8L405.8 693.2L407.2 692.6L408.6 692.0L409.9 691.4L411.3 690.8L412.7 690.2L414.0 689.6L415.4 688.9L416.8 688.3L418.1 687.7L419.5 687.1L420.9 686.4L422.2 685.8L423.6 685.2L425.0 684.6L426.3 684.0L427.7 683.3L429.1 682.7L429.1 682.7L430.4 682.1L431.8 681.5L433.2 680.8L434.5 680.2L435.9 679.6L437.3 679.0L438.6 678.3L440.0 677.7L441.4 677.1L442.7 676.5L444.1 675.8L445.5 675.2L446.8 674.6L448.2 674.0L449.6 673.4L450.9 672.8L452.3 672.2L452.6 672.1L453.7 671.6L455.1 671.0L456.5 670.4L457.9 669.8L459.2 669.2L460.6 668.6L462.0 668.1L463.4 667.6L464.8 667.1L466.2 666.7L466.3 666.7L467.7 666.3L469.2 665.9L470.7 665.5L472.1 665.1L473.6 664.8L475.1 664.5L476.6 664.3L478.0 664.2L478.5 664.2L479.5 664.3L481.0 664.6L482.5 665.1L484.0 665.7L485.3 666.4L485.9 666.7L486.5 667.1L487.6 668.0L488.7 669.0L489.7 670.2L490.6 671.5L491.4 672.9L492.1 674.1L492.1 674.2L492.7 675.5L493.3 676.9L493.8 678.3L494.3 679.7L494.7 681.2L495.0 682.7L495.3 684.0L495.3 684.2L495.6 685.6L495.8 687.1L496.0 688.6L496.2 690.1L496.3 691.6L496.5 693.1L496.6 694.6L496.8 696.1L496.9 697.6L497.0 698.8L497.0 699.1L497.2 700.6L497.3 702.1L497.4 703.6L497.5 705.1L497.6 706.6L497.7 708.1L497.8 709.6L497.9 711.1L498.0 712.5L498.1 714.0L498.2 715.5L498.3 717.0L498.4 718.5L498.5 720.0L498.6 721.5L498.7 723.0L498.8 724.5L498.9 726.0L498.9 727.5L499.0 729.0L499.1 730.5L499.2 732.0L499.3 733.5L499.4 735.0L499.5 736.5L499.6 738.0L499.6 739.5L499.7 741.0L499.8 742.5L499.9 744.0L500.0 745.5L500.1 747.0L500.2 748.1L500.2 748.5L500.3 750.0L500.4 751.5L500.6 753.0L500.7 754.5L500.8 756.0L500.9 757.5L501.0 759.0L501.1 760.5L501.2 762.0L501.4 763.5L501.5 765.0L501.6 766.5L501.7 768.0L501.8 769.5L501.9 771.0L502.0 772.5L502.0 772.8L502.1 774.0L502.2 775.5L502.3 777.0L502.3 778.4L502.4 779.9L502.5 781.4L502.6 782.9L502.7 784.4L502.8 785.9L502.8 787.4L502.9 788.9L503.0 790.4L503.1 791.9L503.2 793.4L503.2 794.9L503.3 796.4L503.4 797.9L503.5 799.4L503.5 800.9L503.6 802.4L503.7 803.9L503.7 804.9L503.7 805.4L503.8 806.9L503.8 808.4L503.9 809.9L504.0 811.4L504.0 812.9L504.1 814.4L504.1 815.9L504.2 817.4L504.2 818.9L504.3 820.4L504.3 821.9L504.4 823.4L504.4 824.9L504.5 826.4L504.5 827.9L504.6 829.4L504.6 830.9L504.7 832.4L504.7 833.9L504.8 835.4L504.8 836.9L504.9 838.4L504.9 839.9L505.0 841.4L505.0 842.9L505.1 844.4L505.2 845.9L505.2 846.9L505.2 847.4L505.3 848.9L505.4 850.4L505.4 851.9L505.5 853.4L505.5 854.9L505.6 856.4L505.7 857.9L505.7 859.4L505.8 860.9L505.9 862.4L505.9 863.9L506.0 865.4L506.1 866.9L506.2 868.4L506.2 869.9L506.3 871.4L506.4 872.9L506.5 874.4L506.6 875.9L506.6 877.4L506.7 878.9L506.8 880.4L506.9 881.9L507.0 883.4L507.1 884.9L507.2 886.4L507.3 887.9L507.4 889.4L507.6 890.9L507.7 892.4L507.8 893.9L508.0 895.4L508.1 896.9L508.1 897.0L508.2 898.4L508.4 899.9L508.6 901.3L508.8 902.8L509.1 904.3L509.4 905.8L509.6 907.3L510.0 908.7L510.1 909.4L510.3 910.2L510.6 911.7L511.0 913.3L511.5 914.9L512.0 916.5L512.5 918.0L513.1 919.5L513.7 920.8L514.4 922.0L515.1 923.1L515.6 923.7L515.9 924.0L516.9 924.8L518.2 925.6L519.6 926.4L521.2 927.0L522.7 927.5L524.3 927.8L524.9 927.8L525.7 927.8L527.2 927.7L528.6 927.5L530.1 927.3L531.6 927.0L533.1 926.6L534.6 926.3L536.1 925.9L537.6 925.5L538.5 925.2L539.0 925.1L540.4 924.6L541.7 924.0L543.1 923.4L544.4 922.7L545.8 922.0L547.1 921.3L548.4 920.5L549.8 919.8L551.1 919.0L552.1 918.5L552.4 918.3L553.7 917.6L555.0 916.9L556.3 916.2L557.7 915.4L559.0 914.7L560.3 913.9L561.6 913.2L562.9 912.4L564.2 911.7L564.4 911.6L565.5 911.0L566.8 910.3L568.2 909.6L569.5 908.9L570.8 908.2L572.2 907.6L573.5 906.9L574.9 906.2L576.2 905.5L577.6 904.9L578.9 904.2L580.2 903.5L581.5 902.7L582.8 902.0L584.1 901.3L585.4 900.5L585.4 900.5L586.7 899.7L587.9 898.9L589.2 898.0L590.4 897.1L591.6 896.3L592.8 895.4L594.0 894.5L595.3 893.6L596.5 892.8L597.7 891.9L597.8 891.9L599.0 891.1L600.3 890.3L601.6 889.6L602.8 888.8L604.1 888.0L605.4 887.2L606.7 886.5L608.0 885.7L609.3 884.9L610.1 884.4L610.5 884.1L611.8 883.3L613.1 882.5L614.4 881.7L615.6 880.9L616.9 880.1L618.2 879.3L619.4 878.5L620.7 877.7L622.0 876.9L623.2 876.1L624.5 875.3L625.7 874.5L627.0 873.6L628.3 872.8L629.5 872.0L630.8 871.1L631.1 870.9L632.0 870.3L633.2 869.5L634.5 868.6L635.7 867.8L636.9 866.9L638.2 866.0L639.4 865.2L640.6 864.3L641.8 863.4L643.0 862.5L643.5 862.2L644.3 861.6L645.5 860.7L646.7 859.8L647.9 858.9L649.0 858.0L650.2 857.1L651.4 856.2L652.6 855.2L653.8 854.3L654.6 853.6L654.9 853.3L656.1 852.4L657.2 851.4L658.4 850.5L659.6 849.5L660.7 848.6L661.9 847.6L663.0 846.6L664.2 845.7L665.3 844.7L666.4 843.7L667.6 842.7L668.7 841.7L669.8 840.7L670.9 839.7L672.0 838.6L673.0 837.6L673.1 837.5L674.1 836.5L675.1 835.4L676.1 834.3L677.1 833.2L678.1 832.1L679.1 831.0L680.1 829.8L681.1 828.7L682.1 827.5L683.0 826.4L683.0 826.4L684.0 825.2L685.0 824.1L685.9 822.9L686.9 821.7L687.8 820.6L688.8 819.4L689.7 818.2L690.5 817.0L691.3 815.7L691.6 815.3L692.1 814.5L692.8 813.2L693.6 811.9L694.3 810.6L695.0 809.2L695.6 807.9L696.3 806.5L696.9 805.2L697.6 803.8L698.2 802.4L698.8 801.0L699.4 799.6L699.9 798.2L700.5 796.8L701.1 795.4L701.5 794.3L701.6 794.0L702.1 792.6L702.7 791.2L703.2 789.8L703.7 788.4L704.1 787.0L704.6 785.5L705.1 784.1L705.5 782.7L705.9 781.2L706.3 779.8L706.4 779.5L706.7 778.3L707.1 776.9L707.4 775.4L707.8 774.0L708.1 772.5L708.5 771.0L708.8 769.6L709.1 768.1L709.4 766.6L709.7 765.2L710.1 763.7L710.1 763.5L710.4 762.2L710.7 760.8L711.0 759.3L711.3 757.8L711.6 756.4L711.9 754.9L712.2 753.4L712.6 752.0L712.9 750.5L713.2 749.0L713.4 747.5L713.7 746.1L714.0 744.6L714.3 743.1L714.6 741.6L714.9 740.2L715.1 738.8L715.1 738.7L715.4 737.2L715.6 735.7L715.9 734.3L716.1 732.8L716.4 731.3L716.6 729.8L716.8 728.3L717.1 726.8L717.3 725.4L717.5 724.0L717.5 723.9L717.7 722.4L717.9 720.9L718.1 719.4L718.3 717.9L718.5 716.4L718.7 714.9L718.9 713.4L719.1 712.0L719.3 710.5L719.6 709.0L719.8 707.5L720.0 706.7L720.1 706.0L720.5 704.3L721.0 702.4L721.4 700.5L721.9 698.8L722.4 697.4L722.8 696.5L723.0 696.3L723.1 696.3L723.3 696.7L723.6 697.4L723.9 698.5L724.1 699.9L724.4 701.6L724.6 703.4L724.8 705.3L725.0 707.3L725.1 709.3L725.3 711.2L725.4 712.9L725.4 714.1L725.4 714.5L725.5 716.0L725.5 717.5L725.5 719.0L725.6 720.5L725.6 722.0L725.7 723.4L725.7 724.9L725.7 726.4L725.7 727.9L725.8 729.4L725.8 730.9L725.8 732.4L725.8 733.9L725.9 735.5L725.9 737.0L725.9 738.5L725.9 740.0L725.9 741.5L726.0 743.0L726.0 744.5L726.0 746.0L726.0 747.5L726.0 749.0L726.0 750.5L726.1 752.0L726.1 753.5L726.1 755.0L726.1 756.5L726.1 758.0L726.1 759.5L726.2 761.0L726.2 762.5L726.2 763.5L726.2 764.0L726.2 765.5L726.3 767.0L726.3 768.5L726.3 770.0L726.3 771.5L726.3 773.0L726.4 774.5L726.4 776.0L726.4 777.5L726.4 779.0L726.4 780.5L726.5 782.0L726.5 783.5L726.5 785.0L726.5 786.5L726.5 788.0L726.6 789.5L726.6 791.0L726.6 792.5L726.6 794.0L726.6 795.5L726.7 797.0L726.7 798.5L726.7 800.0L726.7 801.5L726.7 803.0L726.8 804.5L726.8 806.0L726.8 807.5L726.8 809.0L726.9 810.5L726.9 812.0L726.9 812.8L726.9 813.5L726.9 815.0L727.0 816.5L727.0 818.0L727.0 819.5L727.0 821.0L727.1 822.5L727.1 824.0L727.1 825.5L727.1 827.0L727.2 828.5L727.2 830.0L727.2 831.5L727.2 833.0L727.3 834.5L727.3 836.0L727.3 837.5L727.4 839.0L727.4 840.5L727.4 842.0L727.5 843.5L727.5 845.0L727.5 846.5L727.6 848.0L727.6 849.5L727.6 851.0L727.7 852.5L727.7 854.0L727.7 855.5L727.8 857.0L727.8 858.5L727.8 860.0L727.9 861.5L727.9 862.2L727.9 863.0L728.0 864.5L728.0 866.0L728.0 867.5L728.1 869.0L728.1 870.6L728.2 872.1L728.2 873.6L728.2 875.1L728.3 876.6L728.3 878.1L728.4 879.6L728.4 881.1L728.5 882.6L728.5 884.1L728.6 885.6L728.7 887.1L728.7 888.6L728.8 890.1L728.9 891.6L729.0 893.1L729.1 894.6L729.2 896.1L729.3 897.5L729.4 899.0L729.4 899.3L729.5 900.7L729.8 902.6L730.1 904.5L730.5 906.1L730.9 907.0L731.1 907.2L731.3 907.1L731.8 906.5L732.4 905.5L733.1 904.0L733.9 902.3L734.6 900.5L735.3 898.7L735.9 897.1L736.0 896.8L736.4 895.7L736.9 894.3L737.4 892.9L737.9 891.5L738.3 890.0L738.7 888.6L739.2 887.1L739.6 885.7L740.1 884.3L740.6 882.9L741.0 882.0L741.2 881.5L741.8 880.1L742.4 878.8L743.1 877.4L743.7 876.0L744.4 874.7L745.1 873.4L745.8 872.0L746.6 870.7L747.2 869.6L747.3 869.4L748.0 868.2L748.8 866.9L749.6 865.6L750.4 864.3L751.2 863.1L752.1 861.8L752.9 860.6L753.8 859.4L754.7 858.1L755.5 856.9L756.4 855.7L757.3 854.5L758.2 853.3L759.1 852.1L760.0 850.9L760.7 849.9L760.9 849.6L761.8 848.4L762.7 847.2L763.6 846.0L764.5 844.9L765.4 843.7L766.4 842.5L767.3 841.3L768.3 840.2L769.3 839.0L770.2 837.9L770.6 837.5L771.2 836.8L772.3 835.7L773.3 834.7L774.4 833.6L775.5 832.6L776.6 831.5L777.7 830.5L778.8 829.5L779.8 828.4L780.5 827.7L780.9 827.3L781.9 826.2L782.9 825.1L783.9 824.0L785.0 822.9L786.0 821.8L787.0 820.7L788.0 819.6L789.0 818.4L790.0 817.3L791.0 816.2L791.9 815.0L792.9 813.8L793.8 812.7L794.7 811.5L795.6 810.3L796.5 809.1L796.5 809.1L797.4 807.9L798.2 806.6L799.0 805.4L799.8 804.1L800.5 802.8L801.3 801.5L802.1 800.2L802.8 798.9L803.6 797.6L804.0 796.8L804.3 796.3L805.1 795.0L805.9 793.7L806.6 792.4L807.4 791.1L808.2 789.8L808.9 788.5L809.6 787.1L810.3 785.8L810.9 784.4L811.4 783.2L811.4 783.1L812.0 781.7L812.4 780.3L812.9 778.9L813.4 777.4L813.8 776.0L814.2 774.6L814.6 773.1L815.0 771.7L815.4 770.2L815.8 768.7L816.1 767.2L816.5 765.8L816.8 764.3L817.1 762.8L817.4 761.4L817.5 761.0L817.7 759.9L818.0 758.4L818.3 757.0L818.5 755.5L818.8 754.0L819.0 752.5L819.2 751.0L819.5 749.5L819.7 748.1L819.9 746.6L820.0 746.2L820.2 745.1L820.5 743.6L820.7 742.1L821.0 740.7L821.3 739.2L821.5 737.7L821.8 736.2L822.0 734.7L822.2 733.3L822.5 731.8L822.5 731.4L822.6 730.3L822.8 728.8L823.0 727.3L823.1 725.8L823.2 724.3L823.4 722.8L823.5 721.3L823.6 719.8L823.7 718.3L823.8 716.8L824.0 715.3L824.1 713.8L824.2 712.3L824.4 710.8L824.6 709.3L824.7 707.9L824.9 706.7L824.9 706.4L825.2 704.7L825.5 702.9L825.9 700.9L826.3 699.0L826.7 697.2L827.1 695.6L827.4 694.3L827.8 693.5L828.1 693.1L828.1 693.1L828.3 693.4L828.6 694.2L828.9 695.4L829.2 697.0L829.4 698.8L829.7 700.7L829.8 702.7L830.0 704.6L830.1 706.3L830.1 706.7L830.1 707.8L830.2 709.3L830.2 710.8L830.3 712.3L830.3 713.8L830.3 715.3L830.3 716.8L830.4 718.3L830.4 719.8L830.4 721.3L830.4 722.8L830.4 724.3L830.5 725.8L830.5 727.3L830.5 728.8L830.5 730.3L830.5 731.8L830.5 733.3L830.6 734.8L830.6 736.3L830.6 737.8L830.6 738.8L830.6 739.3L830.6 740.8L830.6 742.3L830.7 743.8L830.7 745.3L830.7 746.8L830.7 748.3L830.7 749.8L830.7 751.3L830.8 752.8L830.8 754.3L830.8 755.8L830.8 757.3L830.8 758.8L830.8 760.3L830.8 761.8L830.8 763.3L830.9 764.8L830.9 766.3L830.9 767.8L830.9 769.3L830.9 770.8L830.9 772.3L830.9 773.8L831.0 775.3L831.0 776.8L831.0 778.3L831.0 779.8L831.0 781.3L831.0 782.9L831.1 784.4L831.1 785.9L831.1 787.4L831.1 788.1L831.1 788.9L831.1 790.4L831.1 791.9L831.2 793.4L831.2 794.9L831.2 796.4L831.2 797.9L831.3 799.4L831.3 800.9L831.3 802.4L831.3 803.9L831.4 805.4L831.4 806.9L831.4 808.4L831.4 809.9L831.5 811.4L831.5 812.9L831.5 814.4L831.5 815.9L831.6 817.4L831.6 818.9L831.6 820.4L831.6 821.9L831.7 823.4L831.7 824.9L831.7 826.4L831.7 827.9L831.8 829.4L831.8 830.9L831.8 832.4L831.8 833.9L831.9 835.4L831.9 836.9L831.9 837.5L831.9 838.4L831.9 839.9L832.0 841.4L832.0 842.9L832.0 844.4L832.0 845.9L832.0 847.4L832.0 848.9L832.1 850.4L832.1 851.9L832.1 853.4L832.1 854.9L832.1 856.4L832.1 857.9L832.2 859.4L832.2 860.9L832.2 862.4L832.2 863.9L832.2 865.4L832.2 866.9L832.3 868.4L832.3 869.9L832.3 871.4L832.3 872.9L832.3 874.4L832.4 875.9L832.4 877.4L832.4 878.9L832.5 880.4L832.5 881.9L832.5 883.4L832.6 884.9L832.6 886.4L832.6 886.9L832.6 887.9L832.7 889.7L832.7 891.6L832.8 893.6L832.9 895.6L832.9 897.5L833.0 899.3L833.1 900.9L833.2 902.3L833.4 903.4L833.5 904.0L833.6 904.2L833.6 904.2L833.8 903.9L834.0 903.2L834.3 902.1L834.6 900.7L834.9 899.1L835.3 897.3L835.7 895.4L836.0 893.5L836.4 891.5L836.8 889.7L837.1 887.9L837.3 886.9L837.4 886.4L837.7 884.9L838.0 883.5L838.3 882.0L838.5 880.5L838.8 879.0L839.1 877.6L839.3 876.1L839.6 874.6L839.9 873.1L840.1 871.6L840.4 870.2L840.7 868.7L841.0 867.2L841.3 865.8L841.7 864.3L842.0 862.9L842.2 862.2L842.4 861.4L842.8 860.0L843.2 858.5L843.7 857.1L844.1 855.7L844.6 854.2L845.1 852.8L845.6 851.4L846.2 850.0L846.7 848.6L847.2 847.4L847.3 847.2L847.9 845.8L848.5 844.5L849.1 843.1L849.8 841.8L850.5 840.4L851.2 839.1L851.9 837.8L852.6 836.4L853.3 835.1L853.3 835.1L854.0 833.8L854.7 832.5L855.4 831.1L856.1 829.8L856.8 828.5L857.5 827.2L858.3 825.9L859.0 824.5L859.7 823.2L860.5 821.9L861.2 820.6L862.0 819.3L862.7 818.0L863.5 816.8L864.3 815.5L864.4 815.3L865.1 814.2L865.9 812.9L866.8 811.7L867.6 810.5L868.5 809.2L869.4 808.0L870.2 806.8L871.1 805.5L871.9 804.3L872.7 803.1L873.5 801.8L874.3 800.5L874.3 800.5L875.0 799.2L875.8 797.9L876.5 796.6L877.2 795.2L877.9 793.9L878.6 792.5L879.2 791.2L879.8 789.8L880.4 788.4L880.5 788.1L880.9 787.0L881.4 785.6L882.0 784.2L882.5 782.8L882.9 781.4L883.4 780.0L883.9 778.5L884.3 777.1L884.8 775.7L885.2 774.2L885.6 772.8L886.0 771.3L886.4 769.9L886.8 768.4L887.1 767.0L887.4 765.9L887.5 765.5L887.8 764.0L888.2 762.6L888.5 761.1L888.8 759.6L889.1 758.2L889.4 756.7L889.6 755.2L889.9 753.7L890.2 752.3L890.4 751.1L890.5 750.8L890.7 749.3L891.0 747.8L891.2 746.4L891.5 744.9L891.7 743.4L892.0 741.9L892.2 740.4L892.5 739.0L892.7 737.5L892.9 736.0L893.2 734.5L893.4 733.0L893.6 731.5L893.6 731.4L893.8 730.0L894.0 728.6L894.2 727.1L894.4 725.6L894.6 724.1L894.8 722.6L894.9 721.1L895.1 719.6L895.3 718.1L895.5 716.6L895.6 715.1L895.8 713.7L895.9 712.2L896.0 711.6L896.1 710.6L896.2 708.9L896.4 706.9L896.5 704.9L896.6 703.0L896.7 701.1L896.8 699.4L897.0 698.0L897.1 697.0L897.2 696.4L897.3 696.3L897.4 696.3L897.5 696.8L897.7 697.8L897.9 699.1L898.1 700.7L898.2 702.5L898.4 704.5L898.5 706.5L898.7 708.4L898.8 710.2L898.8 711.6L898.8 711.8L898.8 713.3L898.9 714.8L898.9 716.3L898.9 717.8L898.9 719.3L899.0 720.8L899.0 722.3L899.0 723.8L899.0 725.3L899.0 726.8L899.0 728.3L899.1 729.8L899.1 731.3L899.1 732.8L899.1 734.3L899.1 735.8L899.1 737.3L899.1 738.8L899.1 740.3L899.1 741.8L899.1 743.3L899.2 744.8L899.2 746.3L899.2 747.8L899.2 749.3L899.2 750.8L899.2 752.3L899.2 753.8L899.2 755.3L899.2 756.8L899.2 758.3L899.3 759.8L899.3 761.3L899.3 762.8L899.3 763.5L899.3 764.3L899.3 765.8L899.3 767.3L899.4 768.8L899.4 770.4L899.4 771.9L899.4 773.4L899.4 774.9L899.4 776.4L899.5 777.9L899.5 779.4L899.5 780.9L899.5 782.4L899.5 783.9L899.6 785.4L899.6 786.9L899.6 788.4L899.6 789.9L899.6 791.4L899.6 792.9L899.7 794.4L899.7 795.9L899.7 797.4L899.7 798.9L899.7 800.4L899.8 801.9L899.8 803.4L899.8 804.9L899.8 806.4L899.8 807.9L899.9 809.4L899.9 810.9L899.9 812.4L899.9 813.9L899.9 815.4L900.0 816.9L900.0 818.4L900.0 819.9L900.0 821.4L900.1 822.9L900.1 824.4L900.1 825.9L900.1 827.4L900.1 828.9L900.2 830.4L900.2 831.9L900.2 832.6L900.2 833.4L900.2 834.9L900.3 836.4L900.3 837.9L900.3 839.4L900.3 840.9L900.4 842.4L900.4 843.9L900.4 845.4L900.4 846.9L900.4 848.4L900.5 849.9L900.5 851.4L900.5 852.9L900.5 854.4L900.6 855.9L900.6 857.4L900.6 858.9L900.7 860.4L900.7 861.9L900.7 863.4L900.7 864.9L900.8 866.4L900.8 867.9L900.8 869.4L900.9 870.9L900.9 872.4L900.9 873.9L900.9 875.4L901.0 876.9L901.0 878.4L901.0 879.9L901.1 881.4L901.1 882.9L901.1 884.4L901.2 885.9L901.2 886.9L901.2 887.4L901.2 889.1L901.3 891.0L901.3 892.9L901.3 894.9L901.4 896.9L901.4 898.7L901.5 900.4L901.5 901.8L901.6 902.8L901.6 903.5L901.7 903.7L901.7 903.7L901.8 903.4L901.9 902.6L902.1 901.5L902.3 900.0L902.5 898.3L902.8 896.5L903.0 894.5L903.3 892.6L903.5 890.6L903.7 888.8L904.0 887.2L904.0 886.9L904.2 885.7L904.4 884.2L904.6 882.7L904.8 881.2L905.0 879.7L905.2 878.2L905.5 876.7L905.7 875.3L905.9 873.8L906.1 872.3L906.3 870.8L906.6 869.3L906.7 868.4L906.8 867.8L907.0 866.4L907.2 864.9L907.4 863.4L907.7 861.9L907.9 860.4L908.1 858.9L908.4 857.5L908.6 856.0L908.8 854.5L909.1 853.0L909.3 851.5L909.6 850.1L909.6 849.9L909.8 848.6L910.1 847.1L910.4 845.6L910.7 844.1L910.9 842.7L911.3 841.2L911.6 839.7L911.9 838.3L912.1 837.5L912.3 836.8L912.7 835.4L913.1 833.9L913.5 832.5L914.0 831.1L914.5 829.6L914.9 828.2L915.5 826.8L916.0 825.4L916.5 824.0L917.0 822.7L917.0 822.6L917.6 821.2L918.2 819.8L918.8 818.5L919.4 817.1L920.1 815.7L920.7 814.4L921.4 813.0L922.0 811.7L922.7 810.3L923.4 809.0L924.0 807.6L924.7 806.3L925.4 804.9L925.7 804.2L926.0 803.6L926.6 802.2L927.3 800.9L927.9 799.5L928.6 798.2L929.2 796.8L929.9 795.4L930.5 794.1L931.1 792.7L931.8 791.3L932.3 790.0L932.9 788.6L933.1 788.1L933.5 787.2L934.0 785.8L934.5 784.4L935.0 783.0L935.6 781.6L936.1 780.2L936.6 778.7L937.1 777.3L937.5 775.9L938.0 774.5L938.5 773.0L938.9 771.6L939.3 770.1L939.7 768.7L940.1 767.3L940.5 765.9L940.5 765.8L940.9 764.4L941.3 762.9L941.6 761.4L941.9 760.0L942.3 758.5L942.6 757.0L942.9 755.6L943.2 754.1L943.4 752.6L943.7 751.1L943.7 751.1L943.9 749.7L944.2 748.2L944.4 746.7L944.6 745.2L944.8 743.7L945.0 742.2L945.2 740.7L945.3 739.3L945.5 737.8L945.7 736.3L945.8 734.8L946.0 733.3L946.2 731.8L946.2 731.4L946.3 730.3L946.5 728.8L946.6 727.3L946.7 725.8L946.8 724.3L947.0 722.8L947.1 721.3L947.2 719.8L947.3 718.3L947.5 716.8L947.6 715.3L947.7 713.8L947.8 712.4L947.9 711.6L948.0 710.8L948.1 709.1L948.3 707.2L948.4 705.2L948.5 703.2L948.7 701.3L948.8 699.6L949.0 698.2L949.1 697.1L949.3 696.5L949.4 696.3L949.4 696.3L949.6 696.7L949.8 697.6L950.0 698.9L950.2 700.5L950.3 702.3L950.5 704.2L950.7 706.2L950.8 708.2L950.9 710.0L950.9 711.6L950.9 711.6L950.9 713.1L950.9 714.6L950.9 716.1L950.9 717.6L951.0 719.1L951.0 720.6L951.0 722.1L951.0 723.6L951.0 725.1L951.0 726.6L951.0 728.1L951.0 729.6L951.0 731.1L951.0 732.6L951.0 734.1L951.0 735.6L951.0 737.1L951.0 738.6L951.0 740.1L951.0 741.6L951.0 743.1L951.0 744.6L951.0 746.1L951.0 747.6L951.1 749.1L951.1 750.6L951.1 752.1L951.1 753.6L951.1 755.1L951.1 756.6L951.1 758.1L951.1 759.6L951.1 761.1L951.1 762.6L951.1 763.5L951.1 764.1L951.1 765.6L951.1 767.1L951.1 768.6L951.1 770.1L951.1 771.6L951.2 773.1L951.2 774.6L951.2 776.1L951.2 777.6L951.2 779.2L951.2 780.7L951.2 782.2L951.2 783.7L951.2 785.2L951.2 786.7L951.2 788.2L951.3 789.7L951.3 791.2L951.3 792.7L951.3 794.2L951.3 795.7L951.3 797.2L951.3 798.7L951.3 800.2L951.3 801.7L951.3 803.2L951.4 804.7L951.4 806.2L951.4 807.7L951.4 809.2L951.4 810.7L951.4 812.2L951.4 813.7L951.4 815.2L951.5 816.7L951.5 818.2L951.5 819.7L951.5 821.2L951.5 822.7L951.5 824.2L951.5 825.7L951.5 827.2L951.6 828.7L951.6 830.2L951.6 831.7L951.6 832.6L951.6 833.2L951.6 834.7L951.6 836.2L951.6 837.7L951.7 839.2L951.7 840.7L951.7 842.2L951.7 843.7L951.7 845.2L951.7 846.7L951.7 848.2L951.8 849.7L951.8 851.2L951.8 852.7L951.8 854.2L951.8 855.7L951.8 857.2L951.9 858.7L951.9 860.2L951.9 861.7L951.9 863.2L951.9 864.7L952.0 866.2L952.0 867.7L952.0 869.2L952.0 870.7L952.0 872.2L952.1 873.7L952.1 875.2L952.1 876.7L952.1 878.2L952.2 879.7L952.2 881.2L952.2 882.7L952.2 884.2L952.3 885.7L952.3 886.9L952.3 887.2L952.3 888.7L952.4 890.2L952.4 891.7L952.5 893.2L952.5 894.7L952.6 896.2L952.6 897.7L952.7 899.2L952.7 900.7L952.8 902.2" stroke="#dc00be" stroke-width="3.6" stroke-dasharray="27.8 8.6 8.5 8.6"/>
<path d="M952.8 902.2L953.0 900.7L953.3 899.2L953.5 897.7L953.7 896.3L953.9 894.8L954.2 893.3L954.4 891.8L954.6 890.3L954.8 888.8L955.0 887.3L955.1 885.8L955.3 884.4L955.3 884.3L955.5 882.9L955.6 881.4L955.8 879.9L955.9 878.4L956.0 876.9L956.1 875.4L956.3 873.9L956.4 872.4L956.5 870.9L956.6 869.4L956.7 867.9L956.9 866.4L957.0 864.9L957.1 863.4L957.3 861.9L957.4 860.4L957.6 858.9L957.8 857.4L957.8 857.3L958.0 855.9L958.2 854.4L958.4 853.0L958.6 851.5L958.9 850.0L959.2 848.5L959.4 847.0L959.7 845.5L960.0 844.1L960.3 842.6L960.7 841.1L961.0 839.7L961.3 838.2L961.5 837.5L961.7 836.8L962.1 835.3L962.5 833.9L962.9 832.4L963.3 831.0L963.8 829.5L964.3 828.1L964.8 826.7L965.3 825.3L965.9 823.9L966.4 822.7L966.5 822.5L967.1 821.2L967.8 819.8L968.5 818.5L969.3 817.2L970.1 815.9L971.0 814.7L971.4 814.1L971.8 813.5L972.7 812.3L973.7 811.1L974.6 809.9L975.6 808.8L976.6 807.7L977.7 806.6L978.7 805.5L978.8 805.4L979.8 804.4L980.8 803.4L981.9 802.3L983.0 801.3L984.2 800.3L985.3 799.3L986.5 798.4L987.7 797.5L988.6 796.8L988.9 796.6L990.1 795.8L991.3 794.9L992.6 794.1L993.9 793.3L995.2 792.6L996.5 791.8L997.8 791.1L999.2 790.4L1000.5 789.7L1001.0 789.4L1001.8 789.0L1003.2 788.3L1004.5 787.7L1005.9 787.1L1007.3 786.5L1008.7 786.0L1010.1 785.3L1011.4 784.7L1012.1 784.4L1012.8 784.1L1014.1 783.4L1015.4 782.7L1016.8 782.0L1018.1 781.2L1019.4 780.5L1020.7 779.8L1022.0 779.1L1023.4 778.3L1024.4 777.8L1024.7 777.6L1026.0 776.9L1027.3 776.2L1028.7 775.5L1030.0 774.8L1031.3 774.1L1032.7 773.4L1034.0 772.8L1035.4 772.1L1036.7 771.5L1038.0 770.9L1038.1 770.9L1039.5 770.3L1040.9 769.7L1042.2 769.2L1043.6 768.6L1045.1 768.1L1046.5 767.6L1047.9 767.1L1049.3 766.6L1050.7 766.1L1052.1 765.6L1053.6 765.1L1055.0 764.6L1056.4 764.1L1057.8 763.6L1059.2 763.1L1060.6 762.5L1061.5 762.2L1062.0 762.0L1063.4 761.5L1064.8 760.9L1066.2 760.4L1067.6 759.8L1069.0 759.3L1070.4 758.7L1071.8 758.1L1073.2 757.6L1073.8 757.3L1074.6 757.0L1076.0 756.3L1077.3 755.7L1078.7 755.1L1080.0 754.4L1081.4 753.7L1082.7 753.1L1084.1 752.5L1085.5 751.9L1086.9 751.3L1087.4 751.1L1088.3 750.8L1089.7 750.3L1091.1 749.8L1092.5 749.3L1093.9 748.9L1095.4 748.4L1096.8 748.0L1098.3 747.5L1099.7 747.1L1101.2 746.7L1102.6 746.3L1104.0 745.9L1105.5 745.4L1106.9 745.0L1108.4 744.5L1109.8 744.1L1110.9 743.7L1111.2 743.6L1112.6 743.1L1114.0 742.6L1115.5 742.1L1116.9 741.6L1118.3 741.0L1119.7 740.5L1121.1 740.0L1122.5 739.5L1123.9 739.0L1124.4 738.8L1125.3 738.5L1126.8 738.0L1128.2 737.5L1129.6 737.0L1131.0 736.6L1132.5 736.1L1133.9 735.6L1135.3 735.2L1136.7 734.7L1138.0 734.3L1138.2 734.2L1139.6 733.8L1141.0 733.3L1142.5 732.9L1143.9 732.4L1145.3 732.0L1146.8 731.5L1148.2 731.1L1149.6 730.6L1151.1 730.2L1152.5 729.8L1153.9 729.3L1155.4 728.9L1156.8 728.4L1158.2 728.0L1159.7 727.5L1161.1 727.0L1161.5 726.9L1162.5 726.6L1164.0 726.1L1165.4 725.6L1166.8 725.1L1168.2 724.6L1169.6 724.1L1171.1 723.6L1172.5 723.1L1173.8 722.7L1173.9 722.7L1175.3 722.2L1176.7 721.7L1178.2 721.2L1179.6 720.7L1181.0 720.2L1182.4 719.8L1183.9 719.3L1185.3 718.8L1186.7 718.4L1188.2 717.9L1188.6 717.8L1189.6 717.5L1191.0 717.1L1192.5 716.7L1193.9 716.3L1195.4 715.9L1196.8 715.5L1198.3 715.1L1199.7 714.7L1201.2 714.4L1202.7 714.0L1204.1 713.6L1205.6 713.2L1207.0 712.8L1208.5 712.5L1209.9 712.1L1211.4 711.7L1212.8 711.2L1213.3 711.1L1214.2 710.8L1215.7 710.4L1217.1 709.9L1218.5 709.5L1220.0 709.0L1221.4 708.6L1222.8 708.1L1224.3 707.6L1225.7 707.2L1225.7 707.2L1227.1 706.7L1228.6 706.3L1230.0 705.8L1231.4 705.4L1232.9 704.9L1234.3 704.5L1235.7 704.0L1237.2 703.6L1238.6 703.2L1239.3 703.0L1240.1 702.8L1241.5 702.4L1243.0 702.0L1244.4 701.7L1245.9 701.3L1247.3 701.0L1248.8 700.6L1250.3 700.3L1251.7 699.9L1253.2 699.6L1254.7 699.3L1256.1 698.9L1257.6 698.6L1259.1 698.2L1260.5 697.9L1262.0 697.6L1263.4 697.2L1264.9 696.9L1265.2 696.8L1266.4 696.5L1267.8 696.2L1269.3 695.8L1270.7 695.4L1272.2 695.1L1273.7 694.7L1275.1 694.3L1276.6 693.9L1278.0 693.6L1279.5 693.2L1280.9 692.8L1282.4 692.4L1283.8 692.0L1285.3 691.6L1286.7 691.3L1288.2 690.9L1289.7 690.5L1291.1 690.1L1292.6 689.7L1294.0 689.4L1295.5 689.0L1296.9 688.6L1298.4 688.3L1299.8 687.9L1301.3 687.5L1302.8 687.2L1304.2 686.8L1305.7 686.5L1307.1 686.1L1308.6 685.8L1310.1 685.5L1311.5 685.1L1313.0 684.8L1314.5 684.5L1315.9 684.2L1316.3 684.1L1317.4 683.9L1318.9 683.6L1320.3 683.3L1321.8 683.0L1323.3 682.7L1324.8 682.4L1326.2 682.1L1327.7 681.9L1329.2 681.6L1330.7 681.3L1332.1 681.0L1333.6 680.8L1335.1 680.5L1336.6 680.2L1338.1 680.0L1339.5 679.7L1341.0 679.5L1342.5 679.2L1344.0 678.9L1345.5 678.7L1346.9 678.4L1348.4 678.2L1349.9 677.9L1351.4 677.7L1352.9 677.4L1354.4 677.2L1355.8 676.9L1357.3 676.7L1358.8 676.5L1360.3 676.2L1361.8 676.0L1363.3 675.7L1364.7 675.5L1366.2 675.2L1367.7 675.0L1369.2 674.7L1369.4 674.7L1370.7 674.5L1372.1 674.2L1373.6 674.0L1375.1 673.7L1376.6 673.5L1378.1 673.2L1379.6 673.0L1381.0 672.8L1382.5 672.5L1384.0 672.3L1385.5 672.0L1387.0 671.8L1388.4 671.5L1389.9 671.3L1391.4 671.0L1392.9 670.8L1394.4 670.5L1395.9 670.3L1397.3 670.1L1398.8 669.8L1400.3 669.6L1401.8 669.4L1403.3 669.1L1404.8 668.9L1406.2 668.7L1407.7 668.4L1409.2 668.2L1410.7 668.0L1412.2 667.8L1413.7 667.6L1415.2 667.3L1416.6 667.1L1418.1 666.9L1419.6 666.7L1421.1 666.5L1422.5 666.3L1422.6 666.3L1424.1 666.1L1425.6 665.9L1427.1 665.7L1428.5 665.5L1430.0 665.3L1431.5 665.1L1433.0 664.9L1434.5 664.7L1436.0 664.5L1437.5 664.4L1439.0 664.2L1440.5 664.0L1442.0 663.8L1443.5 663.6L1444.9 663.5L1446.4 663.3L1447.9 663.1L1449.4 662.9L1450.9 662.7L1452.4 662.6L1453.9 662.4L1455.4 662.2L1456.9 662.1L1458.4 661.9L1459.9 661.7L1461.4 661.6L1462.9 661.4L1464.3 661.2L1465.8 661.0L1467.3 660.9L1468.8 660.7L1470.3 660.5L1471.8 660.4L1473.3 660.2L1474.3 660.1L1474.8 660.0L1476.3 659.9L1477.8 659.7L1479.3 659.5L1480.8 659.4L1482.3 659.2L1483.8 659.0L1485.2 658.9L1486.7 658.7L1488.2 658.5L1489.7 658.4L1491.2 658.2L1492.7 658.0L1494.2 657.9L1495.7 657.7L1497.2 657.6L1498.7 657.4L1500.2 657.2L1501.7 657.1L1503.2 656.9L1504.7 656.8L1506.2 656.6L1507.7 656.4L1509.1 656.3L1510.6 656.1L1512.1 656.0L1513.6 655.8L1515.1 655.7L1516.6 655.5L1518.1 655.4L1519.6 655.2L1521.1 655.1L1522.6 655.0L1524.1 654.8L1525.6 654.7L1527.1 654.5L1528.6 654.4L1528.6 654.4L1530.1 654.3L1531.6 654.1L1533.1 654.0L1534.6 653.9L1536.1 653.7L1537.6 653.6L1539.1 653.5L1540.6 653.4L1542.1 653.2L1543.5 653.1L1545.0 653.0L1546.5 652.9L1548.0 652.7L1549.5 652.6L1551.0 652.5L1552.5 652.4L1554.0 652.3L1555.5 652.1L1557.0 652.0L1558.5 651.9L1560.0 651.8L1561.5 651.7L1563.0 651.6L1564.5 651.4L1566.0 651.3L1567.5 651.2L1569.0 651.1L1570.5 651.0L1572.0 650.9L1573.5 650.8L1575.0 650.7L1576.5 650.6L1578.0 650.5L1579.5 650.4L1581.0 650.3L1582.5 650.2" stroke="#dc00be" stroke-width="3.6" stroke-dasharray="27.8 8.6 8.5 8.6" stroke-dashoffset="45.13"/>
</g>
<path d="M500 40.5V1111.2" stroke="#000" stroke-width="6.7" stroke-linecap="round" stroke-dasharray="38.3 28.2" fill="none"/>
<path d="M431.2 509.8L478.6 456.5" stroke="#000" stroke-width="6.6" stroke-linecap="round" fill="none"/><path d="M495.9 437.1L487.3 469.6L479.3 455.8L464.6 449.4Z" fill="#000"/>
<path d="M680.7 384.7L711.4 414.9" stroke="#000" stroke-width="6.6" stroke-linecap="round" fill="none"/><path d="M730.0 433.1L697.9 422.9L712.2 415.6L719.2 401.2Z" fill="#000"/>
<path d="M768.0 332.2L818.8 411.4" stroke="#000" stroke-width="6.6" stroke-linecap="round" fill="none"/><path d="M832.8 433.3L803.8 416.2L819.3 412.3L829.4 399.8Z" fill="#000"/>
<path d="M883.0 359.7L897.4 404.4" stroke="#000" stroke-width="6.6" stroke-linecap="round" fill="none"/><path d="M905.3 429.2L881.7 405.3L897.7 405.4L910.6 396.0Z" fill="#000"/>
<path d="M993.0 513.0L963.8 476.5" stroke="#000" stroke-width="6.6" stroke-linecap="round" fill="none"/><path d="M947.5 456.2L978.1 470.1L963.1 475.7L954.4 489.1Z" fill="#000"/>
<rect x="1159.1" y="65.1" width="396.9" height="196.6" fill="#000"/>
<rect x="1165.1" y="71" width="383.9" height="184" fill="#fff"/>
<path d="M1173.5 118.4H1324.5" stroke="#0072bd" stroke-width="7" stroke-linecap="round" stroke-dasharray="4.9 11.55" fill="none"/>
<path d="M1173.5 211.4H1324.5" stroke="#7e2f8e" stroke-width="7" stroke-linecap="round" stroke-dasharray="4.9 11.55" fill="none"/>
<g font-family="'Liberation Serif', 'Times New Roman', serif" fill="#000">
<text transform="translate(166.5,62.6) scale(0.96,1)" font-size="56" text-anchor="end">120</text>
<text transform="translate(169.5,172.4) scale(0.96,1)" font-size="56" text-anchor="end">100</text>
<text transform="translate(166.8,286.3) scale(0.96,1)" font-size="56" text-anchor="end">80</text>
<text transform="translate(161.8,392.7) scale(0.96,1)" font-size="56" text-anchor="end">60</text>
<text transform="translate(161.2,503.3) scale(0.96,1)" font-size="56" text-anchor="end">40</text>
<text transform="translate(159.5,609.9) scale(0.96,1)" font-size="56" text-anchor="end">20</text>
<text transform="translate(164.7,667.3) scale(0.96,1)" font-size="56" text-anchor="end">90</text>
<text transform="translate(156,824.5) scale(0.96,1)" font-size="56" text-anchor="end">0</text>
<text transform="translate(156,986.9) scale(0.965,1)" font-size="56" text-anchor="end">-90</text>
<text transform="translate(161.1,1122.5) scale(0.965,1)" font-size="56" text-anchor="end">-180</text>
<text transform="translate(228.0,1181.2)" font-size="56"><tspan x="0" y="0" text-anchor="end" textLength="54.32" lengthAdjust="spacingAndGlyphs">10</tspan><tspan x="1.2" y="-25.0" font-size="33" text-anchor="start">1</tspan></text>
<text transform="translate(659.7,1181.2)" font-size="56"><tspan x="0" y="0" text-anchor="end" textLength="54.32" lengthAdjust="spacingAndGlyphs">10</tspan><tspan x="0.0" y="-25.0" font-size="33" text-anchor="start">2</tspan></text>
<text transform="translate(1116.5,1181.2)" font-size="56"><tspan x="0" y="0" text-anchor="end" textLength="54.32" lengthAdjust="spacingAndGlyphs">10</tspan><tspan x="-0.1" y="-25.0" font-size="33" text-anchor="start">3</tspan></text>
<text transform="translate(1585.1,1181.2)" font-size="56"><tspan x="0" y="0" text-anchor="end" textLength="54.32" lengthAdjust="spacingAndGlyphs">10</tspan><tspan x="0.0" y="-26.0" font-size="33" text-anchor="start">4</tspan></text>
<text transform="translate(812,1231.3) translate(0,11.3) skewX(-15) translate(0,-11.3)" font-size="54" font-style="italic">f</text>
<text transform="translate(836.2,1231.3) scale(0.86,1)" font-size="54" text-anchor="start">/</text>
<text transform="translate(850.9,1231.3) scale(1.03,1)" font-size="54" text-anchor="start">Hz</text>
<text transform="translate(60.9,372.6) rotate(-90) scale(1.097,1)" font-size="52.3"><tspan font-style="italic">M</tspan>/dB</text>
<text transform="translate(61.5,927.3) rotate(-90) scale(0.988,1)" font-size="56"><tspan font-style="italic">φ</tspan>/(°)</text>
<text transform="translate(339.2,565.9) scale(0.982,1)" font-size="55.3" text-anchor="start">50Hz</text>
<text transform="translate(539.5,379.6) scale(0.982,1)" font-size="55.3" text-anchor="start">150Hz</text>
<text transform="translate(628,325.3) scale(0.982,1)" font-size="55.3" text-anchor="start">250Hz</text>
<text transform="translate(794.6,353.4) scale(0.982,1)" font-size="55.3" text-anchor="start">350Hz</text>
<text transform="translate(963.5,563.3) scale(0.982,1)" font-size="55.3" text-anchor="start">450Hz</text>
<text transform="translate(1441,113.8) scale(1.023,1)" font-size="43" text-anchor="middle">Proposed</text>
<text transform="translate(1440,166.0) scale(1.023,1)" font-size="43" text-anchor="middle">method</text>
<text transform="translate(1440.5,227.8) scale(1.023,1)" font-size="43" text-anchor="middle">Multi PR</text>
</g>
</svg>
</body></html>
